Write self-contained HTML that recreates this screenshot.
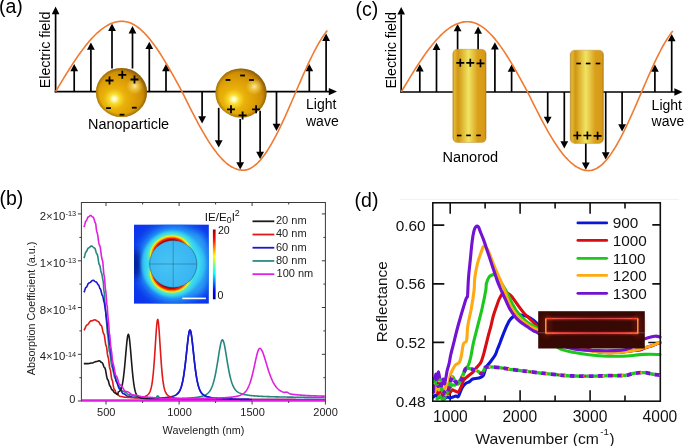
<!DOCTYPE html>
<html><head><meta charset="utf-8"><title>Plasmonic nanoparticles and nanorods</title>
<style>
html,body{margin:0;padding:0;background:#fff;overflow:hidden;}
svg{display:block;will-change:transform;filter:blur(0.3px);}
text{font-family:"Liberation Sans",sans-serif;}
</style></head><body>
<svg width="685" height="446" viewBox="0 0 685 446">
<defs>
<radialGradient id="sph" cx="0.36" cy="0.63" r="0.78" fx="0.36" fy="0.63">
  <stop offset="0" stop-color="#ffffff"/>
  <stop offset="0.045" stop-color="#fffcc0"/>
  <stop offset="0.13" stop-color="#f8dc30"/>
  <stop offset="0.27" stop-color="#eab20a"/>
  <stop offset="0.5" stop-color="#de9f06"/>
  <stop offset="0.7" stop-color="#ce8e04"/>
  <stop offset="0.86" stop-color="#a86e08"/>
  <stop offset="1" stop-color="#744c10"/>
</radialGradient>
<radialGradient id="sph2" cx="0.76" cy="0.37" r="0.17">
  <stop offset="0" stop-color="#fff0a0" stop-opacity="0.95"/>
  <stop offset="0.5" stop-color="#fbe070" stop-opacity="0.5"/>
  <stop offset="1" stop-color="#fbe070" stop-opacity="0"/>
</radialGradient>
<radialGradient id="sph3" cx="0.5" cy="0.5" r="0.5">
  <stop offset="0.86" stop-color="#6a4808" stop-opacity="0"/>
  <stop offset="1" stop-color="#6a4808" stop-opacity="0.45"/>
</radialGradient>
<linearGradient id="rod" x1="0" x2="1" y1="0" y2="0">
  <stop offset="0" stop-color="#b98a28"/>
  <stop offset="0.05" stop-color="#e2b832"/>
  <stop offset="0.16" stop-color="#d29612"/>
  <stop offset="0.47" stop-color="#f0e462"/>
  <stop offset="0.75" stop-color="#d9a01c"/>
  <stop offset="0.95" stop-color="#d99a16"/>
  <stop offset="1" stop-color="#a87a22"/>
</linearGradient>
</defs>
<rect width="685" height="446" fill="#fff"/>

<g id="wa"><g stroke="#000" stroke-width="1.7" fill="#000">
<line x1="55.6" y1="92.45" x2="55.6" y2="14"/>
<polygon points="55.6,6.6 59.4,14.2 51.8,14.2" stroke="none"/>
<line x1="54.75" y1="91.6" x2="329.5" y2="91.6"/>
<polygon points="337,91.6 328.8,87.9 328.8,95.3" stroke="none"/>
<line x1="74.2" y1="91.6" x2="74.2" y2="70.7"/><polygon stroke="none" points="74.2,63.9 78.1,71.2 70.3,71.2"/>
<line x1="90.9" y1="91.6" x2="90.9" y2="49.2"/><polygon stroke="none" points="90.9,42.4 94.8,49.7 87,49.7"/>
<line x1="112" y1="68.5" x2="112" y2="30.4"/><polygon stroke="none" points="112,23.6 115.9,30.9 108.1,30.9"/>
<line x1="132.5" y1="68.5" x2="132.5" y2="32.9"/><polygon stroke="none" points="132.5,26.1 136.4,33.4 128.6,33.4"/>
<line x1="149.3" y1="91.6" x2="149.3" y2="48.6"/><polygon stroke="none" points="149.3,41.8 153.2,49.1 145.4,49.1"/>
<line x1="166" y1="91.6" x2="166" y2="70.8"/><polygon stroke="none" points="166,64 169.9,71.3 162.1,71.3"/>
<line x1="309.3" y1="91.6" x2="309.3" y2="70.8"/><polygon stroke="none" points="309.3,64 313.2,71.3 305.4,71.3"/>
<line x1="326.1" y1="91.6" x2="326.1" y2="40.4"/><polygon stroke="none" points="326.1,33.6 330,40.9 322.2,40.9"/>
<line x1="202.1" y1="91.6" x2="202.1" y2="116.8"/><polygon stroke="none" points="202.1,123.6 206,116.3 198.2,116.3"/>
<line x1="276.5" y1="91.6" x2="276.5" y2="124.3"/><polygon stroke="none" points="276.5,131.1 280.4,123.8 272.6,123.8"/>
</g>
<path d="M55.6,91.6 C55.85,91.18 56.6,89.93 57.1,89.1 C57.6,88.27 58.1,87.44 58.6,86.61 C59.1,85.78 59.6,84.95 60.1,84.12 C60.6,83.29 61.1,82.46 61.6,81.64 C62.1,80.82 62.6,79.99 63.1,79.17 C63.6,78.35 64.1,77.54 64.6,76.72 C65.1,75.91 65.6,75.1 66.1,74.29 C66.6,73.48 67.1,72.68 67.6,71.88 C68.1,71.08 68.6,70.29 69.1,69.5 C69.6,68.71 70.1,67.92 70.6,67.14 C71.1,66.36 71.6,65.58 72.1,64.81 C72.6,64.04 73.1,63.28 73.6,62.52 C74.1,61.76 74.6,61.01 75.1,60.26 C75.6,59.52 76.1,58.78 76.6,58.05 C77.1,57.32 77.6,56.59 78.1,55.87 C78.6,55.16 79.1,54.45 79.6,53.75 C80.1,53.04 80.6,52.35 81.1,51.67 C81.6,50.98 82.1,50.3 82.6,49.63 C83.1,48.97 83.6,48.31 84.1,47.66 C84.6,47.01 85.1,46.37 85.6,45.74 C86.1,45.1 86.6,44.48 87.1,43.87 C87.6,43.26 88.1,42.66 88.6,42.07 C89.1,41.48 89.6,40.9 90.1,40.33 C90.6,39.76 91.1,39.2 91.6,38.65 C92.1,38.1 92.6,37.57 93.1,37.04 C93.6,36.52 94.1,36 94.6,35.5 C95.1,35 95.6,34.51 96.1,34.03 C96.6,33.55 97.1,33.09 97.6,32.63 C98.1,32.18 98.6,31.74 99.1,31.31 C99.6,30.88 100.1,30.47 100.6,30.06 C101.1,29.66 101.6,29.27 102.1,28.89 C102.6,28.52 103.1,28.15 103.6,27.8 C104.1,27.45 104.6,27.12 105.1,26.8 C105.6,26.47 106.1,26.16 106.6,25.87 C107.1,25.57 107.6,25.29 108.1,25.02 C108.6,24.76 109.1,24.5 109.6,24.26 C110.1,24.02 110.6,23.8 111.1,23.59 C111.6,23.38 112.1,23.18 112.6,23 C113.1,22.82 113.6,22.65 114.1,22.5 C114.6,22.34 115.1,22.21 115.6,22.08 C116.1,21.96 116.6,21.85 117.1,21.75 C117.6,21.66 118.1,21.58 118.6,21.51 C119.1,21.45 119.6,21.4 120.1,21.36 C120.6,21.33 121.1,21.31 121.6,21.3 C122.1,21.3 122.6,21.31 123.1,21.33 C123.6,21.36 124.1,21.41 124.6,21.47 C125.1,21.54 125.6,21.62 126.1,21.72 C126.6,21.82 127.1,21.94 127.6,22.08 C128.1,22.22 128.6,22.37 129.1,22.54 C129.6,22.71 130.1,22.9 130.6,23.11 C131.1,23.32 131.6,23.54 132.1,23.78 C132.6,24.03 133.1,24.28 133.6,24.56 C134.1,24.84 134.6,25.13 135.1,25.44 C135.6,25.75 136.1,26.08 136.6,26.43 C137.1,26.77 137.6,27.13 138.1,27.51 C138.6,27.89 139.1,28.28 139.6,28.69 C140.1,29.1 140.6,29.53 141.1,29.97 C141.6,30.41 142.1,30.87 142.6,31.34 C143.1,31.81 143.6,32.3 144.1,32.81 C144.6,33.31 145.1,33.83 145.6,34.36 C146.1,34.89 146.6,35.44 147.1,36 C147.6,36.57 148.1,37.14 148.6,37.73 C149.1,38.32 149.6,38.93 150.1,39.55 C150.6,40.16 151.1,40.79 151.6,41.44 C152.1,42.08 152.6,42.74 153.1,43.41 C153.6,44.08 154.1,44.76 154.6,45.45 C155.1,46.14 155.6,46.85 156.1,47.56 C156.6,48.28 157.1,49.01 157.6,49.75 C158.1,50.48 158.6,51.23 159.1,51.99 C159.6,52.75 160.1,53.52 160.6,54.3 C161.1,55.08 161.6,55.87 162.1,56.66 C162.6,57.46 163.1,58.27 163.6,59.08 C164.1,59.89 164.6,60.72 165.1,61.55 C165.6,62.38 166.1,63.22 166.6,64.06 C167.1,64.91 167.6,65.76 168.1,66.62 C168.6,67.48 169.1,68.34 169.6,69.21 C170.1,70.08 170.6,70.96 171.1,71.84 C171.6,72.72 172.1,73.61 172.6,74.5 C173.1,75.39 173.6,76.29 174.1,77.19 C174.6,78.09 175.1,78.99 175.6,79.9 C176.1,80.8 176.6,81.71 177.1,82.62 C177.6,83.53 178.1,84.45 178.6,85.36 C179.1,86.28 179.6,87.19 180.1,88.11 C180.6,89.03 181.1,89.91 181.6,90.87 C182.1,91.82 182.6,92.83 183.1,93.83 C183.6,94.83 184.1,95.85 184.6,96.86 C185.1,97.87 185.6,98.88 186.1,99.88 C186.6,100.89 187.1,101.89 187.6,102.9 C188.1,103.9 188.6,104.9 189.1,105.89 C189.6,106.89 190.1,107.88 190.6,108.86 C191.1,109.85 191.6,110.84 192.1,111.81 C192.6,112.79 193.1,113.76 193.6,114.73 C194.1,115.7 194.6,116.66 195.1,117.61 C195.6,118.57 196.1,119.52 196.6,120.46 C197.1,121.4 197.6,122.33 198.1,123.26 C198.6,124.19 199.1,125.11 199.6,126.02 C200.1,126.93 200.6,127.83 201.1,128.72 C201.6,129.61 202.1,130.49 202.6,131.37 C203.1,132.24 203.6,133.1 204.1,133.95 C204.6,134.81 205.1,135.65 205.6,136.48 C206.1,137.31 206.6,138.13 207.1,138.94 C207.6,139.75 208.1,140.54 208.6,141.33 C209.1,142.11 209.6,142.88 210.1,143.64 C210.6,144.4 211.1,145.14 211.6,145.88 C212.1,146.61 212.6,147.33 213.1,148.03 C213.6,148.73 214.1,149.43 214.6,150.1 C215.1,150.78 215.6,151.44 216.1,152.08 C216.6,152.73 217.1,153.36 217.6,153.98 C218.1,154.59 218.6,155.19 219.1,155.78 C219.6,156.36 220.1,156.93 220.6,157.48 C221.1,158.03 221.6,158.57 222.1,159.09 C222.6,159.61 223.1,160.11 223.6,160.59 C224.1,161.08 224.6,161.55 225.1,162 C225.6,162.45 226.1,162.88 226.6,163.29 C227.1,163.71 227.6,164.11 228.1,164.49 C228.6,164.86 229.1,165.22 229.6,165.57 C230.1,165.91 230.6,166.23 231.1,166.54 C231.6,166.84 232.1,167.13 232.6,167.4 C233.1,167.67 233.6,167.91 234.1,168.14 C234.6,168.37 235.1,168.59 235.6,168.78 C236.1,168.97 236.6,169.14 237.1,169.29 C237.6,169.45 238.1,169.58 238.6,169.7 C239.1,169.81 239.6,169.91 240.1,169.98 C240.6,170.06 241.1,170.11 241.6,170.15 C242.1,170.19 242.6,170.21 243.1,170.2 C243.6,170.19 244.1,170.17 244.6,170.11 C245.1,170.06 245.6,169.98 246.1,169.87 C246.6,169.76 247.1,169.63 247.6,169.47 C248.1,169.31 248.6,169.13 249.1,168.92 C249.6,168.71 250.1,168.47 250.6,168.21 C251.1,167.95 251.6,167.67 252.1,167.36 C252.6,167.05 253.1,166.71 253.6,166.35 C254.1,165.99 254.6,165.61 255.1,165.2 C255.6,164.79 256.1,164.36 256.6,163.9 C257.1,163.44 257.6,162.96 258.1,162.46 C258.6,161.96 259.1,161.43 259.6,160.88 C260.1,160.33 260.6,159.75 261.1,159.16 C261.6,158.56 262.1,157.95 262.6,157.31 C263.1,156.67 263.6,156.01 264.1,155.33 C264.6,154.64 265.1,153.94 265.6,153.22 C266.1,152.49 266.6,151.75 267.1,150.99 C267.6,150.23 268.1,149.44 268.6,148.64 C269.1,147.84 269.6,147.02 270.1,146.18 C270.6,145.34 271.1,144.49 271.6,143.61 C272.1,142.74 272.6,141.85 273.1,140.94 C273.6,140.04 274.1,139.11 274.6,138.18 C275.1,137.24 275.6,136.28 276.1,135.32 C276.6,134.35 277.1,133.37 277.6,132.37 C278.1,131.37 278.6,130.36 279.1,129.34 C279.6,128.32 280.1,127.29 280.6,126.24 C281.1,125.2 281.6,124.14 282.1,123.07 C282.6,122.01 283.1,120.93 283.6,119.84 C284.1,118.75 284.6,117.66 285.1,116.55 C285.6,115.45 286.1,114.33 286.6,113.22 C287.1,112.1 287.6,110.97 288.1,109.84 C288.6,108.7 289.1,107.56 289.6,106.42 C290.1,105.28 290.6,104.13 291.1,102.97 C291.6,101.82 292.1,100.67 292.6,99.51 C293.1,98.35 293.6,97.19 294.1,96.02 C294.6,94.86 295.1,93.7 295.6,92.53 C296.1,91.37 296.6,90.2 297.1,89.04 C297.6,87.87 298.1,86.71 298.6,85.54 C299.1,84.38 299.6,83.22 300.1,82.07 C300.6,80.91 301.1,79.76 301.6,78.61 C302.1,77.47 302.6,76.32 303.1,75.19 C303.6,74.05 304.1,72.92 304.6,71.8 C305.1,70.68 305.6,69.57 306.1,68.47 C306.6,67.36 307.1,66.27 307.6,65.18 C308.1,64.1 308.6,63.02 309.1,61.96 C309.6,60.9 310.1,59.85 310.6,58.81 C311.1,57.77 311.6,56.75 312.1,55.73 C312.6,54.72 313.1,53.73 313.6,52.75 C314.1,51.76 314.6,50.8 315.1,49.85 C315.6,48.9 316.1,47.96 316.6,47.05 C317.1,46.13 317.6,45.23 318.1,44.35 C318.6,43.47 319.1,42.61 319.6,41.77 C320.1,40.93 320.6,40.11 321.1,39.31 C321.6,38.51 322.1,37.72 322.6,36.96 C323.1,36.21 323.6,35.47 324.1,34.75 C324.6,34.04 325.1,33.34 325.6,32.67 C326.1,32 326.82,31.1 327.1,30.73 C327.38,30.37 327.27,30.53 327.3,30.49" fill="none" stroke="#f07a30" stroke-width="1.6"/></g>
<ellipse cx="121.5" cy="92.5" rx="25.6" ry="24.5" fill="url(#sph)"/>
<ellipse cx="121.5" cy="92.5" rx="25.6" ry="24.5" fill="url(#sph2)"/>
<ellipse cx="121.5" cy="92.5" rx="25.6" ry="24.5" fill="url(#sph3)"/>
<ellipse cx="241" cy="93" rx="25.6" ry="24.5" fill="url(#sph)"/>
<ellipse cx="241" cy="93" rx="25.6" ry="24.5" fill="url(#sph2)"/>
<ellipse cx="241" cy="93" rx="25.6" ry="24.5" fill="url(#sph3)"/>
<g stroke="#000" stroke-width="1.7" fill="#000"><line x1="218.7" y1="107.8" x2="218.7" y2="140.8"/><polygon stroke="none" points="218.7,147.6 222.6,140.3 214.8,140.3"/><line x1="240.2" y1="119" x2="240.2" y2="162.7"/><polygon stroke="none" points="240.2,169.5 244.1,162.2 236.3,162.2"/><line x1="260.1" y1="110.8" x2="260.1" y2="152.2"/><polygon stroke="none" points="260.1,159 264,151.7 256.2,151.7"/></g>
<g stroke="#000" stroke-width="1.7" fill="#000"><line x1="564.3" y1="92" x2="564.3" y2="141.8"/><polygon stroke="none" points="564.3,148.6 568.2,141.3 560.4,141.3"/><line x1="585.8" y1="92" x2="585.8" y2="163"/><polygon stroke="none" points="585.8,169.8 589.7,162.5 581.9,162.5"/><line x1="605.7" y1="92" x2="605.7" y2="152.8"/><polygon stroke="none" points="605.7,159.6 609.6,152.3 601.8,152.3"/></g>
<g stroke="#000" stroke-width="1.8" fill="none">
<path d="M105.5,80.5H113.5M109.5,76.5V84.5"/>
<path d="M118.3,74.8H126.3M122.3,70.8V78.8"/>
<path d="M130.5,79.5H138.5M134.5,75.5V83.5"/>
<path d="M227,109.3H235M231,105.3V113.3"/>
<path d="M238.6,115.4H246.6M242.6,111.4V119.4"/>
<path d="M252.1,109.3H260.1M256.1,105.3V113.3"/>
<path d="M106.1,108.1H110.9"/>
<path d="M119.6,114.7H124.4"/>
<path d="M131.9,107.7H136.7"/>
<path d="M225.6,80H230.4"/>
<path d="M240.2,75.5H245"/>
<path d="M249.1,80H253.9"/>
</g>
<text x="-1" y="13.4" font-size="19.5">(a)</text>
<text transform="translate(50.3,88.2) rotate(-90)" font-size="14.2">Electric field</text>
<text x="88.1" y="128.5" font-size="14.45">Nanoparticle</text>
<text x="306" y="109.3" font-size="14">Light</text>
<text x="306" y="125.7" font-size="14">wave</text>
<use href="#wa" transform="translate(345.6,0.4)"/>
<rect x="452.8" y="49.3" width="33.3" height="93.2" rx="4.5" fill="url(#rod)" stroke="#b88a3a" stroke-width="0.6" stroke-opacity="0.7"/>
<rect x="570.2" y="50.2" width="33.3" height="93.2" rx="4.5" fill="url(#rod)" stroke="#b88a3a" stroke-width="0.6" stroke-opacity="0.7"/>
<g stroke="#000" stroke-width="1.65" fill="none">
<path d="M456.3,62.8H464.3M460.3,58.8V66.8"/>
<path d="M466.3,62.8H474.3M470.3,58.8V66.8"/>
<path d="M476.5,63.3H484.5M480.5,59.3V67.3"/>
<path d="M573.3,135.5H581.3M577.3,131.5V139.5"/>
<path d="M583.4,135.5H591.4M587.4,131.5V139.5"/>
<path d="M593.6,135.8H601.6M597.6,131.8V139.8"/>
<path d="M456.9,135.5H461.5"/>
<path d="M466.2,135.4H470.8"/>
<path d="M476.2,135.4H480.8"/>
<path d="M576.3,63.5H580.9"/>
<path d="M585.9,63.5H590.5"/>
<path d="M595.7,63.5H600.3"/>
</g>
<text x="355.4" y="16" font-size="19.5">(c)</text>
<text transform="translate(396.4,88.6) rotate(-90)" font-size="14.2">Electric field</text>
<text x="442.4" y="161.8" font-size="14.55">Nanorod</text>
<text x="651.6" y="109.7" font-size="14">Light</text>
<text x="651.6" y="126.1" font-size="14">wave</text>
<rect x="81.4" y="202.5" width="244" height="198.5" fill="none" stroke="#3a3a3a" stroke-width="1"/>
<path d="M77.9,213.9H81.4M77.9,260.8H81.4M77.9,307.5H81.4M77.9,354.3H81.4M77.9,401H81.4M79.4,237.4H81.4M79.4,284.1H81.4M79.4,330.9H81.4M79.4,377.7H81.4M321.9,213.9H325.4M321.9,260.8H325.4M321.9,307.5H325.4M321.9,354.3H325.4M323.4,237.4H325.4M323.4,284.1H325.4M323.4,330.9H325.4M323.4,377.7H325.4M106,401V404.5M179.1,401V404.5M252.1,401V404.5M325.4,401V404.5M142.6,401V403M215.6,401V403M288.7,401V403M106,202.5V206M179.1,202.5V206M252.1,202.5V206M142.6,202.5V204.5M215.6,202.5V204.5M288.7,202.5V204.5" stroke="#3a3a3a" stroke-width="1" fill="none"/>
<g fill="none" stroke-width="1.6" stroke-linejoin="round">
<path d="M83.8,258.03 L84.3,257.29 L84.8,255.42 L85.3,253.33 L85.8,252.06 L86.3,251.79 L86.8,251 L87.3,249.8 L87.8,248.65 L88.3,247.99 L88.8,247.88 L89.3,247.6 L89.8,247.14 L90.3,246.62 L90.8,246.18 L91.3,245.95 L91.8,245.97 L92.3,246.26 L92.8,246.72 L93.3,247.23 L93.8,247.67 L94.3,247.9 L94.8,248.13 L95.3,249.31 L95.8,251.11 L96.3,252.83 L96.8,253.83 L97.3,254.3 L97.8,256.47 L98.3,259.76 L98.8,262.92 L99.3,264.74 L99.8,265.35 L100.3,267.68 L100.8,270.73 L101.3,272.72 L101.8,273.58 L102.3,276.78 L102.8,279.61 L103.3,281.81 L103.8,289.66 L104.3,293.23 L104.8,301.42 L105.3,306.19 L105.8,313.9 L106.3,319.91 L106.8,324.75 L107.3,333.02 L107.8,335.36 L108.3,339.99 L108.8,346.82 L109.3,351.44 L109.8,352.43 L110.3,355.38 L110.8,359.87 L111.3,364.18 L111.8,366.66 L112.3,367.16 L112.8,368.71 L113.3,371.25 L113.8,374.09 L114.3,376.48 L114.8,377.77 L115.3,378.03 L115.8,378.88 L116.3,380.32 L116.8,382.07 L117.3,383.78 L117.8,385.12 L118.3,385.82 L118.8,385.94 L119.3,386.3 L119.8,386.94 L120.3,387.78 L120.8,388.72 L121.3,389.66 L121.8,390.46 L122.3,391.05 L122.8,391.35 L123.3,391.39 L123.8,391.48 L124.3,391.66 L124.8,391.91 L125.3,392.22 L125.8,392.57 L126.3,392.96 L126.8,393.35 L127.3,393.72 L127.8,394.07 L128.3,394.37 L128.8,394.61 L129.3,394.77 L129.8,394.84 L130.3,394.86 L130.8,394.88 L131.3,394.94 L131.8,395.02 L132.3,395.12 L132.8,395.24 L133.3,395.38 L133.8,395.53 L134.3,395.7 L134.8,395.87 L135.3,396.04 L135.8,396.2 L136.3,396.37 L136.8,396.52 L137.3,396.65 L137.8,396.77 L138.3,396.87 L138.8,396.94 L139.3,396.99 L139.8,397.01 L140.3,397.01 L140.8,397.03 L141.3,397.05 L141.8,397.09 L142.3,397.14 L142.8,397.2 L143.3,397.27 L143.8,397.34 L144.3,397.42 L144.8,397.51 L145.3,397.59 L145.8,397.67 L146.3,397.75 L146.8,397.82 L147.3,397.89 L147.8,397.95 L148.3,397.99 L148.8,398.03 L149.3,398.05 L149.8,398.06 L150.3,398.96 L150.8,398.95 L151.3,398.95 L151.8,398.95 L152.3,398.94 L152.8,398.94 L153.3,398.93 L153.8,398.92 L154.3,398.89 L154.8,398.81 L155.3,398.6 L155.8,398.18 L156.3,397.52 L156.8,396.72 L157.3,396.08 L157.8,395.91 L158.3,396.29 L158.8,397.02 L159.3,397.78 L159.8,398.34 L160.3,398.66 L160.8,398.8 L161.3,398.84 L161.8,398.85 L162.3,398.85 L162.8,398.84 L163.3,398.84 L163.8,398.83 L164.3,398.83 L164.8,398.82 L165.3,398.81 L165.8,398.81 L166.3,398.8 L166.8,398.79 L167.3,398.79 L167.8,398.78 L168.3,398.77 L168.8,398.76 L169.3,398.75 L169.8,398.75 L170.3,398.74 L170.8,398.73 L171.3,398.72 L171.8,398.71 L172.3,398.7 L172.8,398.69 L173.3,398.68 L173.8,398.67 L174.3,398.66 L174.8,398.65 L175.3,398.63 L175.8,398.62 L176.3,398.61 L176.8,398.6 L177.3,398.58 L177.8,398.57 L178.3,398.56 L178.8,398.54 L179.3,398.53 L179.8,398.51 L180.3,398.5 L180.8,398.48 L181.3,398.46 L181.8,398.44 L182.3,398.42 L182.8,398.41 L183.3,398.39 L183.8,398.36 L184.3,398.34 L184.8,398.32 L185.3,398.3 L185.8,398.27 L186.3,398.25 L186.8,398.22 L187.3,398.19 L187.8,398.17 L188.3,398.14 L188.8,398.1 L189.3,398.07 L189.8,398.04 L190.3,398 L190.8,397.96 L191.3,397.92 L191.8,397.88 L192.3,397.84 L192.8,397.79 L193.3,397.75 L193.8,397.7 L194.3,397.64 L194.8,397.59 L195.3,397.53 L195.8,397.46 L196.3,397.4 L196.8,397.33 L197.3,397.25 L197.8,397.17 L198.3,397.09 L198.8,397 L199.3,396.9 L199.8,396.8 L200.3,396.69 L200.8,396.57 L201.3,396.44 L201.8,396.3 L202.3,396.16 L202.8,396 L203.3,395.83 L203.8,395.64 L204.3,395.44 L204.8,395.22 L205.3,394.97 L205.8,394.7 L206.3,394.4 L206.8,394.07 L207.3,393.7 L207.8,393.28 L208.3,392.81 L208.8,392.29 L209.3,391.69 L209.8,391.01 L210.3,390.24 L210.8,389.36 L211.3,388.37 L211.8,387.26 L212.3,386 L212.8,384.59 L213.3,383.01 L213.8,381.26 L214.3,379.33 L214.8,377.21 L215.3,374.89 L215.8,372.39 L216.3,369.71 L216.8,366.86 L217.3,363.87 L217.8,360.76 L218.3,357.59 L218.8,354.42 L219.3,351.32 L219.8,348.37 L220.3,345.7 L220.8,343.4 L221.3,341.61 L221.8,340.41 L222.3,339.88 L222.8,340.05 L223.3,340.9 L223.8,342.39 L224.3,344.42 L224.8,346.88 L225.3,349.65 L225.8,352.64 L226.3,355.73 L226.8,358.84 L227.3,361.91 L227.8,364.88 L228.3,367.73 L228.8,370.41 L229.3,372.92 L229.8,375.24 L230.3,377.37 L230.8,379.31 L231.3,381.07 L231.8,382.66 L232.3,384.07 L232.8,385.33 L233.3,386.44 L233.8,387.43 L234.3,388.29 L234.8,389.05 L235.3,389.72 L235.8,390.31 L236.3,390.82 L236.8,391.28 L237.3,391.68 L237.8,392.03 L238.3,392.35 L238.8,392.63 L239.3,392.89 L239.8,393.12 L240.3,393.33 L240.8,393.52 L241.3,393.7 L241.8,393.86 L242.3,394.01 L242.8,394.15 L243.3,394.28 L243.8,394.4 L244.3,394.52 L244.8,394.63 L245.3,394.73 L245.8,394.82 L246.3,394.91 L246.8,395 L247.3,395.08 L247.8,395.16 L248.3,395.23 L248.8,395.3 L249.3,395.36 L249.8,395.43 L250.3,395.49 L250.8,395.54 L251.3,395.6 L251.8,395.65 L252.3,395.7 L252.8,395.75 L253.3,395.79 L253.8,395.84 L254.3,395.88 L254.8,395.92 L255.3,395.96 L255.8,396 L256.3,396.03 L256.8,396.07 L257.3,396.1 L257.8,396.13 L258.3,396.17 L258.8,396.2 L259.3,396.23 L259.8,396.25 L260.3,396.28 L260.8,396.31 L261.3,396.33 L261.8,396.36 L262.3,396.38 L262.8,396.41 L263.3,396.43 L263.8,396.45 L264.3,396.47 L264.8,396.49 L265.3,396.51 L265.8,396.53 L266.3,396.55 L266.8,396.57 L267.3,396.59 L267.8,396.61 L268.3,396.63 L268.8,396.64 L269.3,396.66 L269.8,396.67 L270.3,396.69 L270.8,396.71 L271.3,396.72 L271.8,396.74 L272.3,396.75 L272.8,396.77 L273.3,396.78 L273.8,396.79 L274.3,396.81 L274.8,396.82 L275.3,396.83 L275.8,396.84 L276.3,396.86 L276.8,396.87 L277.3,396.88 L277.8,396.89 L278.3,396.9 L278.8,396.92 L279.3,396.93 L279.8,396.94 L280.3,396.95 L280.8,396.96 L281.3,396.97 L281.8,396.98 L282.3,396.99 L282.8,397 L283.3,397.01 L283.8,397.02 L284.3,397.03 L284.8,397.04 L285.3,397.05 L285.8,397.06 L286.3,397.07 L286.8,397.07 L287.3,397.08 L287.8,397.09 L288.3,397.1 L288.8,397.11 L289.3,397.12 L289.8,397.13 L290.3,397.13 L290.8,397.14 L291.3,397.15 L291.8,397.16 L292.3,397.17 L292.8,397.17 L293.3,397.18 L293.8,397.19 L294.3,397.2 L294.8,397.2 L295.3,397.21 L295.8,397.22 L296.3,397.22 L296.8,397.23 L297.3,397.24 L297.8,397.25 L298.3,397.25 L298.8,397.26 L299.3,397.27 L299.8,397.27 L300.3,397.28 L300.8,397.29 L301.3,397.29 L301.8,397.3 L302.3,397.3 L302.8,397.31 L303.3,397.32 L303.8,397.32 L304.3,397.33 L304.8,397.34 L305.3,397.34 L305.8,397.35 L306.3,397.35 L306.8,397.36 L307.3,397.37 L307.8,397.37 L308.3,397.38 L308.8,397.38 L309.3,397.39 L309.8,397.39 L310.3,397.4 L310.8,397.41 L311.3,397.41 L311.8,397.42 L312.3,397.42 L312.8,397.43 L313.3,397.43 L313.8,397.44 L314.3,397.44 L314.8,397.45 L315.3,397.45 L315.8,397.46 L316.3,397.46 L316.8,397.47 L317.3,397.47 L317.8,397.48 L318.3,397.48 L318.8,397.49 L319.3,397.49 L319.8,397.5 L320.3,397.5 L320.8,397.51 L321.3,397.51 L321.8,397.52 L322.3,397.52 L322.8,397.53 L323.3,397.53 L323.8,397.54 L324.3,397.54 L324.8,397.55" stroke="#23877f"/>
<path d="M83.8,292.21 L84.3,291.63 L84.8,290.15 L85.3,288.52 L85.8,287.51 L86.3,287.3 L86.8,286.67 L87.3,285.63 L87.8,284.46 L88.3,283.49 L88.8,282.96 L89.3,282.87 L89.8,282.68 L90.3,282.34 L90.8,281.89 L91.3,281.41 L91.8,280.95 L92.3,280.58 L92.8,280.36 L93.3,280.3 L93.8,280.47 L94.3,280.83 L94.8,281.27 L95.3,281.66 L95.8,281.87 L96.3,282 L96.8,282.59 L97.3,283.48 L97.8,284.34 L98.3,284.84 L98.8,285.18 L99.3,286.7 L99.8,288.36 L100.3,288.91 L100.8,289.94 L101.3,292 L101.8,294.16 L102.3,295.45 L102.8,296.08 L103.3,298.61 L103.8,301.4 L104.3,302.41 L104.8,306.15 L105.3,309.07 L105.8,312.41 L106.3,316.71 L106.8,320.17 L107.3,324.86 L107.8,329.7 L108.3,332.3 L108.8,336.58 L109.3,342.27 L109.8,344.85 L110.3,346.85 L110.8,351.79 L111.3,357.02 L111.8,359.76 L112.3,360.88 L112.8,364.5 L113.3,368.84 L113.8,371.57 L114.3,372.18 L114.8,374.15 L115.3,377.14 L115.8,380.01 L116.3,381.67 L116.8,381.99 L117.3,382.98 L117.8,384.59 L118.3,386.4 L118.8,387.91 L119.3,388.73 L119.8,388.88 L120.3,389.28 L120.8,389.99 L121.3,390.91 L121.8,391.88 L122.3,392.76 L122.8,393.42 L123.3,393.75 L123.8,393.81 L124.3,393.97 L124.8,394.26 L125.3,394.64 L125.8,395.06 L126.3,395.48 L126.8,395.85 L127.3,396.11 L127.8,396.24 L128.3,396.26 L128.8,396.29 L129.3,396.35 L129.8,396.44 L130.3,396.55 L130.8,396.68 L131.3,396.81 L131.8,396.96 L132.3,397.09 L132.8,397.22 L133.3,397.32 L133.8,397.41 L134.3,397.46 L134.8,397.48 L135.3,397.48 L135.8,397.49 L136.3,397.5 L136.8,397.53 L137.3,397.56 L137.8,397.6 L138.3,397.64 L138.8,397.69 L139.3,397.74 L139.8,397.8 L140.3,397.85 L140.8,397.91 L141.3,397.96 L141.8,398 L142.3,398.05 L142.8,398.08 L143.3,398.11 L143.8,398.13 L144.3,398.14 L144.8,398.13 L145.3,398.43 L145.8,398.42 L146.3,398.42 L146.8,398.42 L147.3,398.41 L147.8,398.4 L148.3,398.4 L148.8,398.39 L149.3,398.39 L149.8,398.38 L150.3,398.37 L150.8,398.36 L151.3,398.35 L151.8,398.34 L152.3,398.33 L152.8,398.32 L153.3,398.31 L153.8,398.3 L154.3,398.28 L154.8,398.27 L155.3,398.25 L155.8,398.24 L156.3,398.22 L156.8,398.2 L157.3,398.18 L157.8,398.16 L158.3,398.14 L158.8,398.12 L159.3,398.1 L159.8,398.07 L160.3,398.04 L160.8,398.01 L161.3,397.98 L161.8,397.95 L162.3,397.92 L162.8,397.88 L163.3,397.84 L163.8,397.8 L164.3,397.75 L164.8,397.7 L165.3,397.65 L165.8,397.6 L166.3,397.54 L166.8,397.48 L167.3,397.41 L167.8,397.34 L168.3,397.27 L168.8,397.18 L169.3,397.1 L169.8,397 L170.3,396.9 L170.8,396.79 L171.3,396.67 L171.8,396.54 L172.3,396.41 L172.8,396.25 L173.3,396.09 L173.8,395.91 L174.3,395.71 L174.8,395.49 L175.3,395.24 L175.8,394.97 L176.3,394.66 L176.8,394.31 L177.3,393.9 L177.8,393.43 L178.3,392.88 L178.8,392.24 L179.3,391.48 L179.8,390.59 L180.3,389.53 L180.8,388.28 L181.3,386.8 L181.8,385.07 L182.3,383.06 L182.8,380.73 L183.3,378.06 L183.8,375.04 L184.3,371.66 L184.8,367.92 L185.3,363.85 L185.8,359.47 L186.3,354.88 L186.8,350.16 L187.3,345.46 L187.8,340.98 L188.3,336.94 L188.8,333.62 L189.3,331.27 L189.8,330.1 L190.3,330.24 L190.8,331.67 L191.3,334.25 L191.8,337.75 L192.3,341.91 L192.8,346.47 L193.3,351.19 L193.8,355.91 L194.3,360.48 L194.8,364.81 L195.3,368.84 L195.8,372.52 L196.3,375.84 L196.8,378.81 L197.3,381.42 L197.8,383.69 L198.3,385.66 L198.8,387.35 L199.3,388.79 L199.8,390.02 L200.3,391.05 L200.8,391.93 L201.3,392.68 L201.8,393.32 L202.3,393.86 L202.8,394.33 L203.3,394.74 L203.8,395.09 L204.3,395.41 L204.8,395.69 L205.3,395.94 L205.8,396.16 L206.3,396.36 L206.8,396.55 L207.3,396.72 L207.8,396.87 L208.3,397.01 L208.8,397.15 L209.3,397.27 L209.8,397.39 L210.3,397.49 L210.8,397.59 L211.3,397.68 L211.8,397.77 L212.3,397.85 L212.8,397.93 L213.3,398 L213.8,398.07 L214.3,398.13 L214.8,398.19 L215.3,398.25 L215.8,398.3 L216.3,398.36 L216.8,398.4 L217.3,398.45 L217.8,398.49 L218.3,398.53 L218.8,398.57 L219.3,398.61 L219.8,398.65 L220.3,398.68 L220.8,398.71 L221.3,398.74 L221.8,398.77 L222.3,398.8 L222.8,398.83 L223.3,398.85 L223.8,398.88 L224.3,398.9 L224.8,398.92 L225.3,398.94 L225.8,398.96 L226.3,398.98 L226.8,399 L227.3,399.02 L227.8,399.04 L228.3,399.06 L228.8,399.07 L229.3,399.09 L229.8,399.1 L230.3,399.12 L230.8,399.13 L231.3,399.14 L231.8,399.16 L232.3,399.17 L232.8,399.18 L233.3,399.19 L233.8,399.21 L234.3,399.22 L234.8,399.23 L235.3,399.24 L235.8,399.25 L236.3,399.26 L236.8,399.27 L237.3,399.27 L237.8,399.28 L238.3,399.29 L238.8,399.3 L239.3,399.31 L239.8,399.32 L240.3,399.32 L240.8,399.33 L241.3,399.34 L241.8,399.34 L242.3,399.35 L242.8,399.36 L243.3,399.36 L243.8,399.37 L244.3,399.38 L244.8,399.38 L245.3,399.39 L245.8,399.39 L246.3,399.4 L246.8,399.4 L247.3,399.41 L247.8,399.41 L248.3,399.42 L248.8,399.42 L249.3,399.43 L249.8,399.43 L250.3,399.44 L250.8,399.44 L251.3,399.45 L251.8,399.45 L252.3,399.45 L252.8,399.46 L253.3,399.46 L253.8,399.47 L254.3,399.47 L254.8,399.47 L255.3,399.48 L255.8,399.48 L256.3,399.48 L256.8,399.49 L257.3,399.49 L257.8,399.49 L258.3,399.5 L258.8,399.5 L259.3,399.5 L259.8,399.5 L260.3,399.51 L260.8,399.51 L261.3,399.51 L261.8,399.51 L262.3,399.52 L262.8,399.52 L263.3,399.52 L263.8,399.52 L264.3,399.53 L264.8,399.53 L265.3,399.53 L265.8,399.53 L266.3,399.54 L266.8,399.54 L267.3,399.54 L267.8,399.54 L268.3,399.54 L268.8,399.55 L269.3,399.55 L269.8,399.55 L270.3,399.55 L270.8,399.55 L271.3,399.56 L271.8,399.56 L272.3,399.56 L272.8,399.56 L273.3,399.56 L273.8,399.56 L274.3,399.57 L274.8,399.57 L275.3,399.57 L275.8,399.57 L276.3,399.57 L276.8,399.57 L277.3,399.57 L277.8,399.58 L278.3,399.58 L278.8,399.58 L279.3,399.58 L279.8,399.58 L280.3,399.58 L280.8,399.58 L281.3,399.59 L281.8,399.59 L282.3,399.59 L282.8,399.59 L283.3,399.59 L283.8,399.59 L284.3,399.59 L284.8,399.59 L285.3,399.59 L285.8,399.6 L286.3,399.6 L286.8,399.6 L287.3,399.6 L287.8,399.6 L288.3,399.6 L288.8,399.6 L289.3,399.6 L289.8,399.6 L290.3,399.6 L290.8,399.61 L291.3,399.61 L291.8,399.61 L292.3,399.61 L292.8,399.61 L293.3,399.61 L293.8,399.61 L294.3,399.61 L294.8,399.61 L295.3,399.61 L295.8,399.61 L296.3,399.62 L296.8,399.62 L297.3,399.62 L297.8,399.62 L298.3,399.62 L298.8,399.62 L299.3,399.62 L299.8,399.62 L300.3,399.62 L300.8,399.62 L301.3,399.62 L301.8,399.62 L302.3,399.62 L302.8,399.62 L303.3,399.63 L303.8,399.63 L304.3,399.63 L304.8,399.63 L305.3,399.63 L305.8,399.63 L306.3,399.63 L306.8,399.63 L307.3,399.63 L307.8,399.63 L308.3,399.63 L308.8,399.63 L309.3,399.63 L309.8,399.63 L310.3,399.63 L310.8,399.63 L311.3,399.63 L311.8,399.64 L312.3,399.64 L312.8,399.64 L313.3,399.64 L313.8,399.64 L314.3,399.64 L314.8,399.64 L315.3,399.64 L315.8,399.64 L316.3,399.64 L316.8,399.64 L317.3,399.64 L317.8,399.64 L318.3,399.64 L318.8,399.64 L319.3,399.64 L319.8,399.64 L320.3,399.64 L320.8,399.64 L321.3,399.64 L321.8,399.64 L322.3,399.65 L322.8,399.65 L323.3,399.65 L323.8,399.65 L324.3,399.65 L324.8,399.65" stroke="#1818d0"/>
<path d="M83.8,330.11 L84.3,329.8 L84.8,328.95 L85.3,327.76 L85.8,326.51 L86.3,325.5 L86.8,324.95 L87.3,324.85 L87.8,324.52 L88.3,323.95 L88.8,323.21 L89.3,322.43 L89.8,321.72 L90.3,321.19 L90.8,320.92 L91.3,320.88 L91.8,320.79 L92.3,320.65 L92.8,320.46 L93.3,320.27 L93.8,320.09 L94.3,319.95 L94.8,319.89 L95.3,319.91 L95.8,320.12 L96.3,320.47 L96.8,320.85 L97.3,321.18 L97.8,321.35 L98.3,321.45 L98.8,321.95 L99.3,322.78 L99.8,323.75 L100.3,324.62 L100.8,325.2 L101.3,325.38 L101.8,326.42 L102.3,328.58 L102.8,331.1 L103.3,333.09 L103.8,333.84 L104.3,335.07 L104.8,338.28 L105.3,342.12 L105.8,345.02 L106.3,345.9 L106.8,348.57 L107.3,353.19 L107.8,356.48 L108.3,357.46 L108.8,360.95 L109.3,365.52 L109.8,368.5 L110.3,369.39 L110.8,372.58 L111.3,376.78 L111.8,379.5 L112.3,380.2 L112.8,382.54 L113.3,385.85 L113.8,388.5 L114.3,389.27 L114.8,389.87 L115.3,391.14 L115.8,392.62 L116.3,393.78 L116.8,394.22 L117.3,394.31 L117.8,394.59 L118.3,395.01 L118.8,395.48 L119.3,395.93 L119.8,396.27 L120.3,396.44 L120.8,396.46 L121.3,396.49 L121.8,396.56 L122.3,396.66 L122.8,396.78 L123.3,396.91 L123.8,397.04 L124.3,397.16 L124.8,397.25 L125.3,397.31 L125.8,397.33 L126.3,397.32 L126.8,397.32 L127.3,397.33 L127.8,397.35 L128.3,397.37 L128.8,397.41 L129.3,397.45 L129.8,397.5 L130.3,397.54 L130.8,397.59 L131.3,397.63 L131.8,397.67 L132.3,397.7 L132.8,397.73 L133.3,397.74 L133.8,397.74 L134.3,397.73 L134.8,397.7 L135.3,398.07 L135.8,398.04 L136.3,398 L136.8,397.96 L137.3,397.92 L137.8,397.87 L138.3,397.82 L138.8,397.76 L139.3,397.7 L139.8,397.64 L140.3,397.57 L140.8,397.49 L141.3,397.4 L141.8,397.3 L142.3,397.2 L142.8,397.08 L143.3,396.95 L143.8,396.81 L144.3,396.65 L144.8,396.47 L145.3,396.27 L145.8,396.04 L146.3,395.79 L146.8,395.49 L147.3,395.15 L147.8,394.75 L148.3,394.27 L148.8,393.69 L149.3,392.96 L149.8,392.04 L150.3,390.87 L150.8,389.35 L151.3,387.39 L151.8,384.88 L152.3,381.71 L152.8,377.77 L153.3,372.98 L153.8,367.3 L154.3,360.75 L154.8,353.44 L155.3,345.63 L155.8,337.71 L156.3,330.31 L156.8,324.24 L157.3,320.39 L157.8,319.46 L158.3,321.63 L158.8,326.49 L159.3,333.21 L159.8,340.93 L160.3,348.88 L160.8,356.55 L161.3,363.59 L161.8,369.82 L162.3,375.17 L162.8,379.63 L163.3,383.26 L163.8,386.17 L164.3,388.46 L164.8,390.25 L165.3,391.64 L165.8,392.72 L166.3,393.58 L166.8,394.26 L167.3,394.81 L167.8,395.28 L168.3,395.67 L168.8,396 L169.3,396.3 L169.8,396.56 L170.3,396.79 L170.8,397 L171.3,397.19 L171.8,397.36 L172.3,397.51 L172.8,397.66 L173.3,397.79 L173.8,397.9 L174.3,398.01 L174.8,398.12 L175.3,398.21 L175.8,398.28 L176.3,398.36 L176.8,398.42 L177.3,398.49 L177.8,398.55 L178.3,398.6 L178.8,398.65 L179.3,398.7 L179.8,398.74 L180.3,398.78 L180.8,398.82 L181.3,398.86 L181.8,398.89 L182.3,398.92 L182.8,398.95 L183.3,398.98 L183.8,399.01 L184.3,399.03 L184.8,399.06 L185.3,399.08 L185.8,399.1 L186.3,399.12 L186.8,399.14 L187.3,399.16 L187.8,399.18 L188.3,399.19 L188.8,399.21 L189.3,399.23 L189.8,399.24 L190.3,399.25 L190.8,399.27 L191.3,399.28 L191.8,399.29 L192.3,399.3 L192.8,399.31 L193.3,399.33 L193.8,399.34 L194.3,399.35 L194.8,399.35 L195.3,399.36 L195.8,399.37 L196.3,399.38 L196.8,399.39 L197.3,399.4 L197.8,399.4 L198.3,399.41 L198.8,399.42 L199.3,399.42 L199.8,399.43 L200.3,399.44 L200.8,399.44 L201.3,399.45 L201.8,399.45 L202.3,399.46 L202.8,399.47 L203.3,399.47 L203.8,399.48 L204.3,399.48 L204.8,399.49 L205.3,399.49 L205.8,399.49 L206.3,399.5 L206.8,399.5 L207.3,399.51 L207.8,399.51 L208.3,399.51 L208.8,399.52 L209.3,399.52 L209.8,399.52 L210.3,399.53 L210.8,399.53 L211.3,399.53 L211.8,399.54 L212.3,399.54 L212.8,399.54 L213.3,399.55 L213.8,399.55 L214.3,399.55 L214.8,399.55 L215.3,399.56 L215.8,399.56 L216.3,399.56 L216.8,399.56 L217.3,399.57 L217.8,399.57 L218.3,399.57 L218.8,399.57 L219.3,399.57 L219.8,399.58 L220.3,399.58 L220.8,399.58 L221.3,399.58 L221.8,399.58 L222.3,399.59 L222.8,399.59 L223.3,399.59 L223.8,399.59 L224.3,399.59 L224.8,399.59 L225.3,399.6 L225.8,399.6 L226.3,399.6 L226.8,399.6 L227.3,399.6 L227.8,399.6 L228.3,399.6 L228.8,399.61 L229.3,399.61 L229.8,399.61 L230.3,399.61 L230.8,399.61 L231.3,399.61 L231.8,399.61 L232.3,399.61 L232.8,399.62 L233.3,399.62 L233.8,399.62 L234.3,399.62 L234.8,399.62 L235.3,399.62 L235.8,399.62 L236.3,399.62 L236.8,399.62 L237.3,399.62 L237.8,399.63 L238.3,399.63 L238.8,399.63 L239.3,399.63 L239.8,399.63 L240.3,399.63 L240.8,399.63 L241.3,399.63 L241.8,399.63 L242.3,399.63 L242.8,399.63 L243.3,399.63 L243.8,399.64 L244.3,399.64 L244.8,399.64 L245.3,399.64 L245.8,399.64 L246.3,399.64 L246.8,399.64 L247.3,399.64 L247.8,399.64 L248.3,399.64 L248.8,399.64 L249.3,399.64 L249.8,399.64 L250.3,399.64 L250.8,399.64 L251.3,399.65 L251.8,399.65 L252.3,399.65 L252.8,399.65 L253.3,399.65 L253.8,399.65 L254.3,399.65 L254.8,399.65 L255.3,399.65 L255.8,399.65 L256.3,399.65 L256.8,399.65 L257.3,399.65 L257.8,399.65 L258.3,399.65 L258.8,399.65 L259.3,399.65 L259.8,399.65 L260.3,399.65 L260.8,399.65 L261.3,399.66 L261.8,399.66 L262.3,399.66 L262.8,399.66 L263.3,399.66 L263.8,399.66 L264.3,399.66 L264.8,399.66 L265.3,399.66 L265.8,399.66 L266.3,399.66 L266.8,399.66 L267.3,399.66 L267.8,399.66 L268.3,399.66 L268.8,399.66 L269.3,399.66 L269.8,399.66 L270.3,399.66 L270.8,399.66 L271.3,399.66 L271.8,399.66 L272.3,399.66 L272.8,399.66 L273.3,399.66 L273.8,399.66 L274.3,399.66 L274.8,399.67 L275.3,399.67 L275.8,399.67 L276.3,399.67 L276.8,399.67 L277.3,399.67 L277.8,399.67 L278.3,399.67 L278.8,399.67 L279.3,399.67 L279.8,399.67 L280.3,399.67 L280.8,399.67 L281.3,399.67 L281.8,399.67 L282.3,399.67 L282.8,399.67 L283.3,399.67 L283.8,399.67 L284.3,399.67 L284.8,399.67 L285.3,399.67 L285.8,399.67 L286.3,399.67 L286.8,399.67 L287.3,399.67 L287.8,399.67 L288.3,399.67 L288.8,399.67 L289.3,399.67 L289.8,399.67 L290.3,399.67 L290.8,399.67 L291.3,399.67 L291.8,399.67 L292.3,399.67 L292.8,399.67 L293.3,399.67 L293.8,399.67 L294.3,399.67 L294.8,399.67 L295.3,399.67 L295.8,399.67 L296.3,399.68 L296.8,399.68 L297.3,399.68 L297.8,399.68 L298.3,399.68 L298.8,399.68 L299.3,399.68 L299.8,399.68 L300.3,399.68 L300.8,399.68 L301.3,399.68 L301.8,399.68 L302.3,399.68 L302.8,399.68 L303.3,399.68 L303.8,399.68 L304.3,399.68 L304.8,399.68 L305.3,399.68 L305.8,399.68 L306.3,399.68 L306.8,399.68 L307.3,399.68 L307.8,399.68 L308.3,399.68 L308.8,399.68 L309.3,399.68 L309.8,399.68 L310.3,399.68 L310.8,399.68 L311.3,399.68 L311.8,399.68 L312.3,399.68 L312.8,399.68 L313.3,399.68 L313.8,399.68 L314.3,399.68 L314.8,399.68 L315.3,399.68 L315.8,399.68 L316.3,399.68 L316.8,399.68 L317.3,399.68 L317.8,399.68 L318.3,399.68 L318.8,399.68 L319.3,399.68 L319.8,399.68 L320.3,399.68 L320.8,399.68 L321.3,399.68 L321.8,399.68 L322.3,399.68 L322.8,399.68 L323.3,399.68 L323.8,399.68 L324.3,399.68 L324.8,399.68" stroke="#e01818"/>
<path d="M83.8,363.6 L84.3,363.6 L84.8,363.6 L85.3,363.6 L85.8,363.6 L86.3,363.6 L86.8,363.6 L87.3,363.6 L87.8,363.6 L88.3,363.59 L88.8,363.54 L89.3,363.46 L89.8,363.35 L90.3,363.23 L90.8,363.12 L91.3,363.04 L91.8,363 L92.3,362.98 L92.8,362.87 L93.3,362.67 L93.8,362.41 L94.3,362.14 L94.8,361.89 L95.3,361.7 L95.8,361.61 L96.3,361.58 L96.8,361.49 L97.3,361.33 L97.8,361.14 L98.3,360.97 L98.8,360.84 L99.3,360.8 L99.8,360.95 L100.3,361.34 L100.8,361.86 L101.3,362.32 L101.8,362.58 L102.3,362.76 L102.8,363.68 L103.3,365.1 L103.8,366.52 L104.3,367.44 L104.8,367.72 L105.3,368.98 L105.8,371.37 L106.3,374.3 L106.8,377.09 L107.3,379.08 L107.8,379.8 L108.3,380.56 L108.8,382.46 L109.3,384.58 L109.8,385.87 L110.3,386.21 L110.8,387.31 L111.3,388.76 L111.8,389.71 L112.3,389.88 L112.8,390.33 L113.3,391.07 L113.8,391.89 L114.3,392.59 L114.8,392.97 L115.3,393.04 L115.8,393.26 L116.3,393.63 L116.8,394.05 L117.3,394.39 L117.8,394.58 L118.3,391.9 L118.8,391.63 L119.3,391.3 L119.8,390.84 L120.3,390.17 L120.8,389.18 L121.3,388.27 L121.8,386.64 L122.3,384.53 L122.8,381.87 L123.3,378.59 L123.8,374.67 L124.3,370.12 L124.8,365 L125.3,359.46 L125.8,353.69 L126.3,348.01 L126.8,342.78 L127.3,338.45 L127.8,335.5 L128.3,334.3 L128.8,335.04 L129.3,337.64 L129.8,341.78 L130.3,347.01 L130.8,352.87 L131.3,358.94 L131.8,364.9 L132.3,370.49 L132.8,375.56 L133.3,380.01 L133.8,383.8 L134.3,386.95 L134.8,389.49 L135.3,391.51 L135.8,393.08 L136.3,394.28 L136.8,395.2 L137.3,395.89 L137.8,396.42 L138.3,396.83 L138.8,397.15 L139.3,397.4 L139.8,397.61 L140.3,397.79 L140.8,397.94 L141.3,398.07 L141.8,398.18 L142.3,398.29 L142.8,398.38 L143.3,398.46 L143.8,398.54 L144.3,398.6 L144.8,398.67 L145.3,398.72 L145.8,398.78 L146.3,398.83 L146.8,398.87 L147.3,398.91 L147.8,398.95 L148.3,398.99 L148.8,399.02 L149.3,399.05 L149.8,399.08 L150.3,399.11 L150.8,399.13 L151.3,399.16 L151.8,399.18 L152.3,399.2 L152.8,399.22 L153.3,399.24 L153.8,399.26 L154.3,399.27 L154.8,399.29 L155.3,399.3 L155.8,399.32 L156.3,399.33 L156.8,399.34 L157.3,399.36 L157.8,399.37 L158.3,399.38 L158.8,399.39 L159.3,399.4 L159.8,399.41 L160.3,399.42 L160.8,399.43 L161.3,399.43 L161.8,399.44 L162.3,399.45 L162.8,399.46 L163.3,399.46 L163.8,399.47 L164.3,399.48 L164.8,399.48 L165.3,399.49 L165.8,399.49 L166.3,399.5 L166.8,399.5 L167.3,399.51 L167.8,399.51 L168.3,399.52 L168.8,399.52 L169.3,399.53 L169.8,399.53 L170.3,399.54 L170.8,399.54 L171.3,399.54 L171.8,399.55 L172.3,399.55 L172.8,399.55 L173.3,399.56 L173.8,399.56 L174.3,399.56 L174.8,399.57 L175.3,399.57 L175.8,399.57 L176.3,399.57 L176.8,399.58 L177.3,399.58 L177.8,399.58 L178.3,399.58 L178.8,399.59 L179.3,399.59 L179.8,399.59 L180.3,399.59 L180.8,399.59 L181.3,399.6 L181.8,399.6 L182.3,399.6 L182.8,399.6 L183.3,399.6 L183.8,399.61 L184.3,399.61 L184.8,399.61 L185.3,399.61 L185.8,399.61 L186.3,399.61 L186.8,399.61 L187.3,399.62 L187.8,399.62 L188.3,399.62 L188.8,399.62 L189.3,399.62 L189.8,399.62 L190.3,399.62 L190.8,399.63 L191.3,399.63 L191.8,399.63 L192.3,399.63 L192.8,399.63 L193.3,399.63 L193.8,399.63 L194.3,399.63 L194.8,399.63 L195.3,399.64 L195.8,399.64 L196.3,399.64 L196.8,399.64 L197.3,399.64 L197.8,399.64 L198.3,399.64 L198.8,399.64 L199.3,399.64 L199.8,399.64 L200.3,399.64 L200.8,399.64 L201.3,399.65 L201.8,399.65 L202.3,399.65 L202.8,399.65 L203.3,399.65 L203.8,399.65 L204.3,399.65 L204.8,399.65 L205.3,399.65 L205.8,399.65 L206.3,399.65 L206.8,399.65 L207.3,399.65 L207.8,399.65 L208.3,399.65 L208.8,399.66 L209.3,399.66 L209.8,399.66 L210.3,399.66 L210.8,399.66 L211.3,399.66 L211.8,399.66 L212.3,399.66 L212.8,399.66 L213.3,399.66 L213.8,399.66 L214.3,399.66 L214.8,399.66 L215.3,399.66 L215.8,399.66 L216.3,399.66 L216.8,399.66 L217.3,399.66 L217.8,399.66 L218.3,399.66 L218.8,399.66 L219.3,399.66 L219.8,399.67 L220.3,399.67 L220.8,399.67 L221.3,399.67 L221.8,399.67 L222.3,399.67 L222.8,399.67 L223.3,399.67 L223.8,399.67 L224.3,399.67 L224.8,399.67 L225.3,399.67 L225.8,399.67 L226.3,399.67 L226.8,399.67 L227.3,399.67 L227.8,399.67 L228.3,399.67 L228.8,399.67 L229.3,399.67 L229.8,399.67 L230.3,399.67 L230.8,399.67 L231.3,399.67 L231.8,399.67 L232.3,399.67 L232.8,399.67 L233.3,399.67 L233.8,399.67 L234.3,399.67 L234.8,399.67 L235.3,399.67 L235.8,399.67 L236.3,399.68 L236.8,399.68 L237.3,399.68 L237.8,399.68 L238.3,399.68 L238.8,399.68 L239.3,399.68 L239.8,399.68 L240.3,399.68 L240.8,399.68 L241.3,399.68 L241.8,399.68 L242.3,399.68 L242.8,399.68 L243.3,399.68 L243.8,399.68 L244.3,399.68 L244.8,399.68 L245.3,399.68 L245.8,399.68 L246.3,399.68 L246.8,399.68 L247.3,399.68 L247.8,399.68 L248.3,399.68 L248.8,399.68 L249.3,399.68 L249.8,399.68 L250.3,399.68 L250.8,399.68 L251.3,399.68 L251.8,399.68 L252.3,399.68 L252.8,399.68 L253.3,399.68 L253.8,399.68 L254.3,399.68 L254.8,399.68 L255.3,399.68 L255.8,399.68 L256.3,399.68 L256.8,399.68 L257.3,399.68 L257.8,399.68 L258.3,399.68 L258.8,399.68 L259.3,399.68 L259.8,399.68 L260.3,399.68 L260.8,399.68 L261.3,399.68 L261.8,399.68 L262.3,399.68 L262.8,399.68 L263.3,399.68 L263.8,399.68 L264.3,399.68 L264.8,399.68 L265.3,399.68 L265.8,399.68 L266.3,399.68 L266.8,399.68 L267.3,399.68 L267.8,399.69 L268.3,399.69 L268.8,399.69 L269.3,399.69 L269.8,399.69 L270.3,399.69 L270.8,399.69 L271.3,399.69 L271.8,399.69 L272.3,399.69 L272.8,399.69 L273.3,399.69 L273.8,399.69 L274.3,399.69 L274.8,399.69 L275.3,399.69 L275.8,399.69 L276.3,399.69 L276.8,399.69 L277.3,399.69 L277.8,399.69 L278.3,399.69 L278.8,399.69 L279.3,399.69 L279.8,399.69 L280.3,399.69 L280.8,399.69 L281.3,399.69 L281.8,399.69 L282.3,399.69 L282.8,399.69 L283.3,399.69 L283.8,399.69 L284.3,399.69 L284.8,399.69 L285.3,399.69 L285.8,399.69 L286.3,399.69 L286.8,399.69 L287.3,399.69 L287.8,399.69 L288.3,399.69 L288.8,399.69 L289.3,399.69 L289.8,399.69 L290.3,399.69 L290.8,399.69 L291.3,399.69 L291.8,399.69 L292.3,399.69 L292.8,399.69 L293.3,399.69 L293.8,399.69 L294.3,399.69 L294.8,399.69 L295.3,399.69 L295.8,399.69 L296.3,399.69 L296.8,399.69 L297.3,399.69 L297.8,399.69 L298.3,399.69 L298.8,399.69 L299.3,399.69 L299.8,399.69 L300.3,399.69 L300.8,399.69 L301.3,399.69 L301.8,399.69 L302.3,399.69 L302.8,399.69 L303.3,399.69 L303.8,399.69 L304.3,399.69 L304.8,399.69 L305.3,399.69 L305.8,399.69 L306.3,399.69 L306.8,399.69 L307.3,399.69 L307.8,399.69 L308.3,399.69 L308.8,399.69 L309.3,399.69 L309.8,399.69 L310.3,399.69 L310.8,399.69 L311.3,399.69 L311.8,399.69 L312.3,399.69 L312.8,399.69 L313.3,399.69 L313.8,399.69 L314.3,399.69 L314.8,399.69 L315.3,399.69 L315.8,399.69 L316.3,399.69 L316.8,399.69 L317.3,399.69 L317.8,399.69 L318.3,399.69 L318.8,399.69 L319.3,399.69 L319.8,399.69 L320.3,399.69 L320.8,399.69 L321.3,399.69 L321.8,399.69 L322.3,399.69 L322.8,399.69 L323.3,399.69 L323.8,399.69 L324.3,399.69 L324.8,399.69" stroke="#1a1a1a"/>
</g>
<line x1="82" y1="400.2" x2="325" y2="400.2" stroke="#e020e0" stroke-width="2"/>
<g fill="none" stroke-width="1.6" stroke-linejoin="round">
<path d="M176,394.85 L176.5,394.52 L177,394.15 L177.5,393.72 L178,393.22 L178.5,392.64 L179,391.95 L179.5,391.14 L180,390.19 L180.5,389.05 L181,387.71 L181.5,386.14 L182,384.3 L182.5,382.16 L183,379.7 L183.5,376.9 L184,373.73 L184.5,370.21 L185,366.33 L185.5,362.13 L186,357.66 L186.5,353 L187,348.27 L187.5,343.63 L188,339.29 L188.5,335.51 L189,332.55 L189.5,330.65 L190,330 L190.5,330.66 L191,332.57 L191.5,335.55 L192,339.35 L192.5,343.7 L193,348.35 L193.5,353.09 L194,357.76 L194.5,362.25 L195,366.46 L195.5,370.35 L196,373.89 L196.5,377.07 L197,379.89 L197.5,382.36 L198,384.51 L198.5,386.37 L199,387.95 L199.5,389.31 L200,390.45 L200.5,391.42 L201,392.25 L201.5,392.95 L202,393.54 L202.5,394.06 L203,394.5 L203.5,394.88 L204,395.22 L204.5,395.53 L205,395.79 L205.5,396.03 L206,396.24 L206.5,396.44 L207,396.62 L207.5,396.78 L208,396.93 L208.5,397.07 L209,397.2 L209.5,397.32 L210,397.43 L210.5,397.53 L211,397.63 L211.5,397.72 L212,397.81 L212.5,397.88 L213,397.96 L213.5,398.03 L214,398.1 L214.5,398.16 L215,398.22 L215.5,398.27 L216,398.33 L216.5,398.38 L217,398.42 L217.5,398.47 L218,398.51 L218.5,398.55 L219,398.59 L219.5,398.62 L220,398.66 L220.5,398.69 L221,398.72 L221.5,398.75 L222,398.78 L222.5,398.81 L223,398.84 L223.5,398.86 L224,398.89 L224.5,398.91 L225,398.93 L225.5,398.95 L226,398.97 L226.5,398.99 L227,399.01 L227.5,399.03 L228,399.05 L228.5,399.06 L229,399.08 L229.5,399.09 L230,399.11 L230.5,399.12 L231,399.14 L231.5,399.15 L232,399.16 L232.5,399.17 L233,399.19 L233.5,399.2 L234,399.21 L234.5,399.22 L235,399.23 L235.5,399.24 L236,399.25 L236.5,399.26 L237,399.27 L237.5,399.28 L238,399.29 L238.5,399.3 L239,399.3 L239.5,399.31 L240,399.32 L240.5,399.33 L241,399.33 L241.5,399.34 L242,399.35 L242.5,399.35 L243,399.36 L243.5,399.37 L244,399.37 L244.5,399.38 L245,399.38 L245.5,399.39 L246,399.4 L246.5,399.4 L247,399.41 L247.5,399.41 L248,399.42 L248.5,399.42 L249,399.43 L249.5,399.43 L250,399.43 L250.5,399.44 L251,399.44 L251.5,399.45 L252,399.45" stroke="#1818d0"/>
<path d="M83.8,227.15 L84.3,226.4 L84.8,224.5 L85.3,222.38 L85.8,221.08 L86.3,220.79 L86.8,219.87 L87.3,218.55 L87.8,217.4 L88.3,216.95 L88.8,216.77 L89.3,216.31 L89.8,215.8 L90.3,215.48 L90.8,215.5 L91.3,215.8 L91.8,216.25 L92.3,216.68 L92.8,216.93 L93.3,217.16 L93.8,218.34 L94.3,220.14 L94.8,221.86 L95.3,222.85 L95.8,224.07 L96.3,228.98 L96.8,231.85 L97.3,232.89 L97.8,235.7 L98.3,239.41 L98.8,242.89 L99.3,245.06 L99.8,245.63 L100.3,247.57 L100.8,251.08 L101.3,255.09 L101.8,258.36 L102.3,259.9 L102.8,261.81 L103.3,267.94 L103.8,274.07 L104.3,276.11 L104.8,281.12 L105.3,288.46 L105.8,291.14 L106.3,297.1 L106.8,304.14 L107.3,306.83 L107.8,315.1 L108.3,319.94 L108.8,324.78 L109.3,333.05 L109.8,335.51 L110.3,340.97 L110.8,347.74 L111.3,350.04 L111.8,353.44 L112.3,359.33 L112.8,363.51 L113.3,364.23 L113.8,365.92 L114.3,368.69 L114.8,371.79 L115.3,374.39 L115.8,375.8 L116.3,376.06 L116.8,376.79 L117.3,378.08 L117.8,379.73 L118.3,381.48 L118.8,383.07 L119.3,384.27 L119.8,384.87 L120.3,384.97 L120.8,385.21 L121.3,385.65 L121.8,386.27 L122.3,387.01 L122.8,387.84 L123.3,388.68 L123.8,389.5 L124.3,390.22 L124.8,390.8 L125.3,391.21 L125.8,391.4 L126.3,391.43 L126.8,391.51 L127.3,391.66 L127.8,391.86 L128.3,392.12 L128.8,392.43 L129.3,392.77 L129.8,393.12 L130.3,393.48 L130.8,393.84 L131.3,394.17 L131.8,394.47 L132.3,394.72 L132.8,394.91 L133.3,395.04 L133.8,395.11 L134.3,395.11 L134.8,395.14 L135.3,395.18 L135.8,395.24 L136.3,395.32 L136.8,395.41 L137.3,395.52 L137.8,395.64 L138.3,395.77 L138.8,395.91 L139.3,396.05 L139.8,396.19 L140.3,396.33 L140.8,396.46 L141.3,396.59 L141.8,396.71 L142.3,396.82 L142.8,396.91 L143.3,396.98 L143.8,397.04 L144.3,397.07 L144.8,397.09 L145.3,397.09 L145.8,397.1 L146.3,397.11 L146.8,397.13 L147.3,397.15 L147.8,397.17 L148.3,397.2 L148.8,397.24 L149.3,397.27 L149.8,397.32 L150.3,397.36 L150.8,397.41 L151.3,397.46 L151.8,397.51 L152.3,397.56 L152.8,397.61 L153.3,397.66 L153.8,397.71 L154.3,397.76 L154.8,397.8 L155.3,397.85 L155.8,397.89 L156.3,397.93 L156.8,397.96 L157.3,397.99 L157.8,398.01 L158.3,398.03 L158.8,398.05 L159.3,398.06 L159.8,398.06 L160.3,398.66 L160.8,398.66 L161.3,398.66 L161.8,398.65 L162.3,398.65 L162.8,398.65 L163.3,398.65 L163.8,398.65 L164.3,398.65 L164.8,398.64 L165.3,398.64 L165.8,398.64 L166.3,398.64 L166.8,398.64 L167.3,398.64 L167.8,398.63 L168.3,398.63 L168.8,398.63 L169.3,398.63 L169.8,398.63 L170.3,398.62 L170.8,398.62 L171.3,398.62 L171.8,398.62 L172.3,398.62 L172.8,398.61 L173.3,398.61 L173.8,398.61 L174.3,398.61 L174.8,398.61 L175.3,398.6 L175.8,398.6 L176.3,398.6 L176.8,398.6 L177.3,398.59 L177.8,398.59 L178.3,398.59 L178.8,398.59 L179.3,398.58 L179.8,398.58 L180.3,398.58 L180.8,398.58 L181.3,398.57 L181.8,398.57 L182.3,398.57 L182.8,398.56 L183.3,398.56 L183.8,398.56 L184.3,398.55 L184.8,398.55 L185.3,398.55 L185.8,398.54 L186.3,398.54 L186.8,398.54 L187.3,398.53 L187.8,398.53 L188.3,398.53 L188.8,398.52 L189.3,398.52 L189.8,398.51 L190.3,398.51 L190.8,398.51 L191.3,398.5 L191.8,398.5 L192.3,398.49 L192.8,398.49 L193.3,398.48 L193.8,398.48 L194.3,398.47 L194.8,398.47 L195.3,398.46 L195.8,398.46 L196.3,398.45 L196.8,398.45 L197.3,398.44 L197.8,398.44 L198.3,398.43 L198.8,398.43 L199.3,398.42 L199.8,398.41 L200.3,398.41 L200.8,398.4 L201.3,398.39 L201.8,398.39 L202.3,398.38 L202.8,398.37 L203.3,398.36 L203.8,398.36 L204.3,398.35 L204.8,398.34 L205.3,398.33 L205.8,398.32 L206.3,398.31 L206.8,398.31 L207.3,398.3 L207.8,398.29 L208.3,398.28 L208.8,398.27 L209.3,398.26 L209.8,398.25 L210.3,398.23 L210.8,398.22 L211.3,398.21 L211.8,398.2 L212.3,398.19 L212.8,398.17 L213.3,398.16 L213.8,398.15 L214.3,398.13 L214.8,398.12 L215.3,398.1 L215.8,398.09 L216.3,398.07 L216.8,398.05 L217.3,398.04 L217.8,398.02 L218.3,398 L218.8,397.98 L219.3,397.96 L219.8,397.94 L220.3,397.92 L220.8,397.9 L221.3,397.88 L221.8,397.85 L222.3,397.83 L222.8,397.8 L223.3,397.77 L223.8,397.75 L224.3,397.72 L224.8,397.69 L225.3,397.66 L225.8,397.62 L226.3,397.59 L226.8,397.55 L227.3,397.52 L227.8,397.48 L228.3,397.44 L228.8,397.4 L229.3,397.35 L229.8,397.3 L230.3,397.26 L230.8,397.2 L231.3,397.15 L231.8,397.09 L232.3,397.03 L232.8,396.97 L233.3,396.9 L233.8,396.83 L234.3,396.76 L234.8,396.68 L235.3,396.59 L235.8,396.5 L236.3,396.4 L236.8,396.3 L237.3,396.19 L237.8,396.07 L238.3,395.94 L238.8,395.8 L239.3,395.65 L239.8,395.48 L240.3,395.3 L240.8,395.1 L241.3,394.87 L241.8,394.63 L242.3,394.36 L242.8,394.05 L243.3,393.72 L243.8,393.34 L244.3,392.91 L244.8,392.44 L245.3,391.91 L245.8,391.32 L246.3,390.66 L246.8,389.92 L247.3,389.1 L247.8,388.19 L248.3,387.18 L248.8,386.06 L249.3,384.84 L249.8,383.51 L250.3,382.05 L250.8,380.48 L251.3,378.79 L251.8,376.97 L252.3,375.04 L252.8,373.01 L253.3,370.87 L253.8,368.66 L254.3,366.38 L254.8,364.06 L255.3,361.73 L255.8,359.43 L256.3,357.2 L256.8,355.1 L257.3,353.19 L257.8,351.53 L258.3,350.17 L258.8,349.16 L259.3,348.57 L259.8,348.39 L260.3,348.52 L260.8,348.9 L261.3,349.5 L261.8,350.32 L262.3,351.34 L262.8,352.52 L263.3,353.84 L263.8,355.28 L264.3,356.81 L264.8,358.4 L265.3,360.04 L265.8,361.7 L266.3,363.38 L266.8,365.05 L267.3,366.69 L267.8,368.31 L268.3,369.89 L268.8,371.42 L269.3,372.91 L269.8,374.33 L270.3,375.69 L270.8,377 L271.3,378.23 L271.8,379.4 L272.3,380.51 L272.8,381.55 L273.3,382.53 L273.8,383.44 L274.3,384.3 L274.8,385.09 L275.3,385.83 L275.8,386.52 L276.3,387.16 L276.8,387.74 L277.3,388.28 L277.8,388.78 L278.3,389.24 L278.8,389.66 L279.3,390.05 L279.8,390.41 L280.3,390.74 L280.8,391.04 L281.3,391.32 L281.8,391.57 L282.3,391.8 L282.8,392 L283.3,392.16 L283.8,392.28 L284.3,392.34 L284.8,392.34 L285.3,392.29 L285.8,392.22 L286.3,392.17 L286.8,392.2 L287.3,392.33 L287.8,392.55 L288.3,392.84 L288.8,393.15 L289.3,393.44 L289.8,393.68 L290.3,393.86 L290.8,394 L291.3,394.11 L291.8,394.2 L292.3,394.27 L292.8,394.34 L293.3,394.41 L293.8,394.47 L294.3,394.53 L294.8,394.58 L295.3,394.64 L295.8,394.69 L296.3,394.74 L296.8,394.79 L297.3,394.84 L297.8,394.89 L298.3,394.93 L298.8,394.97 L299.3,395.01 L299.8,395.05 L300.3,395.09 L300.8,395.13 L301.3,395.17 L301.8,395.2 L302.3,395.24 L302.8,395.27 L303.3,395.31 L303.8,395.34 L304.3,395.37 L304.8,395.4 L305.3,395.43 L305.8,395.46 L306.3,395.48 L306.8,395.51 L307.3,395.54 L307.8,395.56 L308.3,395.59 L308.8,395.61 L309.3,395.64 L309.8,395.66 L310.3,395.68 L310.8,395.7 L311.3,395.73 L311.8,395.75 L312.3,395.77 L312.8,395.79 L313.3,395.81 L313.8,395.83 L314.3,395.85 L314.8,395.87 L315.3,395.88 L315.8,395.9 L316.3,395.92 L316.8,395.94 L317.3,395.95 L317.8,395.97 L318.3,395.99 L318.8,396 L319.3,396.02 L319.8,396.03 L320.3,396.05 L320.8,396.06 L321.3,396.08 L321.8,396.09 L322.3,396.1 L322.8,396.12 L323.3,396.13 L323.8,396.14 L324.3,396.16 L324.8,396.17" stroke="#e020e0"/>
</g>
<text x="76" y="219.9" font-size="11.4" text-anchor="end" fill="#222">2×10<tspan font-size="7.3" dy="-3.7">-13</tspan></text>
<text x="76" y="266.8" font-size="11.4" text-anchor="end" fill="#222">1×10<tspan font-size="7.3" dy="-3.7">-13</tspan></text>
<text x="76" y="313.5" font-size="11.4" text-anchor="end" fill="#222">8×10<tspan font-size="7.3" dy="-3.7">-14</tspan></text>
<text x="76" y="360.3" font-size="11.4" text-anchor="end" fill="#222">4×10<tspan font-size="7.3" dy="-3.7">-14</tspan></text>
<text x="75.4" y="403" font-size="11" text-anchor="end" fill="#222">0</text>
<text x="106.2" y="416.3" font-size="11" text-anchor="middle" fill="#222">500</text>
<text x="179.6" y="416.3" font-size="11" text-anchor="middle" fill="#222">1000</text>
<text x="252.6" y="416.3" font-size="11" text-anchor="middle" fill="#222">1500</text>
<text x="325.6" y="416.3" font-size="11" text-anchor="middle" fill="#222">2000</text>
<text x="162.6" y="434" font-size="10.8" fill="#222">Wavelength (nm)</text>
<text transform="translate(35.3,308.4) rotate(-90)" font-size="10.8" text-anchor="middle" fill="#222">Absorption Coefficient (a.u.)</text>
<text x="-0.6" y="205.1" font-size="19.5">(b)</text>
<line x1="252.5" y1="221.3" x2="274.3" y2="221.3" stroke="#1a1a1a" stroke-width="1.8"/>
<text x="276" y="224.1" font-size="11" fill="#222">20 nm</text>
<line x1="252.5" y1="234.52" x2="274.3" y2="234.52" stroke="#e01818" stroke-width="1.8"/>
<text x="276" y="237.32" font-size="11" fill="#222">40 nm</text>
<line x1="252.5" y1="247.74" x2="274.3" y2="247.74" stroke="#1818d0" stroke-width="1.8"/>
<text x="276" y="250.54" font-size="11" fill="#222">60 nm</text>
<line x1="252.5" y1="260.96" x2="274.3" y2="260.96" stroke="#2e8c86" stroke-width="1.8"/>
<text x="276" y="263.76" font-size="11" fill="#222">80 nm</text>
<line x1="252.5" y1="274.18" x2="274.3" y2="274.18" stroke="#e020e0" stroke-width="1.8"/>
<text x="276.6" y="276.98" font-size="11" fill="#222">100 nm</text>
<defs>
<clipPath id="ibclip"><rect x="134" y="224.4" width="74.9" height="79.4"/></clipPath>
<filter id="bl3" x="-50%" y="-50%" width="200%" height="200%"><feGaussianBlur stdDeviation="3.2"/></filter>
<filter id="bl2" x="-50%" y="-50%" width="200%" height="200%"><feGaussianBlur stdDeviation="1.6"/></filter>
<filter id="bl1" x="-50%" y="-50%" width="200%" height="200%"><feGaussianBlur stdDeviation="0.9"/></filter>
<filter id="bl07" x="-50%" y="-50%" width="200%" height="200%"><feGaussianBlur stdDeviation="0.7"/></filter>
<filter id="bl05" x="-50%" y="-50%" width="200%" height="200%"><feGaussianBlur stdDeviation="0.5"/></filter>
<filter id="bl6" x="-50%" y="-50%" width="200%" height="200%"><feGaussianBlur stdDeviation="6"/></filter>
<filter id="bl4" x="-50%" y="-50%" width="200%" height="200%"><feGaussianBlur stdDeviation="4.5"/></filter>
<radialGradient id="inner" cx="0.4" cy="0.5" r="0.65"><stop offset="0" stop-color="#46c4f4"/><stop offset="1" stop-color="#38b2f2"/></radialGradient>
<linearGradient id="jet" x1="0" y1="1" x2="0" y2="0"><stop offset="0" stop-color="#00008f"/><stop offset="0.12" stop-color="#0000ff"/><stop offset="0.37" stop-color="#00ffff"/><stop offset="0.5" stop-color="#80ff80"/><stop offset="0.62" stop-color="#ffff00"/><stop offset="0.87" stop-color="#ff0000"/><stop offset="1" stop-color="#8f0000"/></linearGradient>
</defs>
<g clip-path="url(#ibclip)">
<rect x="134" y="224.4" width="74.9" height="79.4" fill="#0c34ec"/>
<ellipse cx="174.2" cy="264" rx="38" ry="40" fill="#1e84f4" filter="url(#bl6)"/>
<ellipse cx="174.2" cy="264" rx="32" ry="34" fill="#32bcf4" filter="url(#bl4)"/>
<ellipse cx="196" cy="246" rx="9" ry="12" fill="#2c9ef4" filter="url(#bl4)"/>
<ellipse cx="196" cy="282" rx="9" ry="12" fill="#2c9ef4" filter="url(#bl4)"/>
<ellipse cx="135.5" cy="264" rx="5.5" ry="15" fill="#041c98" filter="url(#bl3)"/>
<ellipse cx="147" cy="264" rx="3" ry="9" fill="#1050f0" filter="url(#bl2)"/>
<circle cx="173.2" cy="264" r="27.1" fill="none" stroke="#36c8f2" stroke-width="9" filter="url(#bl2)"/>
<circle cx="173.2" cy="264" r="25.4" fill="none" stroke="#40dcf0" stroke-width="4" filter="url(#bl1)"/>
<path d="M149.89,267.69 L148.63,266.68 L147.79,265.54 L147.12,264.32 L146.57,263.04 L146.14,261.71 L145.82,260.35 L145.6,258.95 L145.48,257.53 L145.47,256.1 L145.55,254.66 L145.72,253.21 L145.99,251.77 L146.36,250.34 L146.81,248.93 L147.36,247.54 L147.99,246.17 L148.71,244.84 L149.51,243.55 L150.39,242.3 L151.34,241.1 L152.37,239.96 L153.47,238.87 L154.63,237.84 L155.86,236.88 L157.14,235.99 L158.47,235.17 L159.85,234.43 L161.27,233.77 L162.73,233.18 L164.22,232.68 L165.74,232.27 L167.28,231.94 L168.83,231.71 L170.4,231.56 L171.97,231.51 L173.54,231.55 L175.1,231.69 L176.65,231.91 L178.18,232.23 L179.68,232.64 L181.14,233.13 L182.57,233.72 L183.96,234.38 L185.3,235.13 L186.58,235.95 L187.8,236.85 L188.95,237.82 L190.04,238.85 L191.04,239.95 L191.97,241.1 L192.8,242.3 L193.55,243.55 L194.2,244.85 L194.74,246.18 L195.18,247.54 L195.49,248.93 L195.68,250.33 L195.71,251.76 L195.55,253.21 L194.92,254.78 L194.37,255.01 L193.91,254 L193.41,253.01 L192.85,252.05 L192.25,251.12 L191.61,250.21 L190.92,249.34 L190.19,248.5 L189.43,247.7 L188.62,246.93 L187.78,246.21 L186.9,245.53 L185.99,244.89 L185.06,244.29 L184.09,243.74 L183.1,243.24 L182.09,242.79 L181.05,242.38 L180,242.03 L178.93,241.73 L177.85,241.48 L176.76,241.28 L175.66,241.13 L174.55,241.04 L173.44,241 L172.33,241.02 L171.22,241.09 L170.12,241.21 L169.02,241.38 L167.93,241.61 L166.86,241.89 L165.8,242.22 L164.76,242.61 L163.74,243.04 L162.73,243.52 L161.76,244.05 L160.81,244.62 L159.89,245.24 L159,245.91 L158.14,246.62 L157.32,247.36 L156.53,248.15 L155.79,248.97 L155.08,249.83 L154.42,250.72 L153.8,251.64 L153.23,252.59 L152.7,253.57 L152.22,254.57 L151.79,255.6 L151.41,256.64 L151.08,257.7 L150.8,258.77 L150.58,259.86 L150.4,260.96 L150.28,262.06 L150.21,263.17 L150.2,264.28 L150.24,265.39 L150.34,266.5 L150.48,267.6Z" fill="#34d8f4" filter="url(#bl2)"/>
<path d="M149.69,261.94 L148.99,260.9 L148.6,259.84 L148.34,258.76 L148.17,257.67 L148.09,256.56 L148.09,255.45 L148.16,254.34 L148.29,253.22 L148.5,252.11 L148.77,251.01 L149.1,249.92 L149.5,248.84 L149.95,247.78 L150.46,246.74 L151.03,245.72 L151.65,244.73 L152.33,243.77 L153.05,242.84 L153.83,241.95 L154.65,241.09 L155.51,240.27 L156.42,239.5 L157.37,238.76 L158.35,238.07 L159.37,237.43 L160.42,236.84 L161.5,236.3 L162.6,235.81 L163.73,235.37 L164.88,234.99 L166.05,234.67 L167.23,234.4 L168.42,234.18 L169.63,234.03 L170.83,233.94 L172.04,233.92 L173.25,233.95 L174.46,234.04 L175.65,234.2 L176.83,234.42 L178,234.69 L179.15,235.03 L180.27,235.43 L181.37,235.88 L182.44,236.39 L183.48,236.95 L184.47,237.57 L185.43,238.23 L186.35,238.95 L187.22,239.72 L188.04,240.53 L188.8,241.38 L189.51,242.28 L190.15,243.21 L190.73,244.19 L191.23,245.2 L191.65,246.25 L191.97,247.34 L192.16,248.48 L192.05,249.8 L191.57,250.16 L191,249.43 L190.4,248.73 L189.77,248.05 L189.12,247.4 L188.44,246.77 L187.74,246.18 L187.01,245.61 L186.26,245.07 L185.49,244.56 L184.7,244.08 L183.89,243.64 L183.07,243.22 L182.22,242.84 L181.37,242.5 L180.5,242.19 L179.62,241.91 L178.73,241.67 L177.82,241.47 L176.92,241.3 L176,241.17 L175.08,241.08 L174.16,241.02 L173.24,241 L172.32,241.02 L171.4,241.07 L170.48,241.16 L169.56,241.29 L168.65,241.45 L167.75,241.65 L166.86,241.89 L165.98,242.16 L165.11,242.47 L164.25,242.81 L163.41,243.19 L162.58,243.6 L161.77,244.04 L160.98,244.52 L160.21,245.02 L159.45,245.56 L158.73,246.13 L158.02,246.72 L157.34,247.34 L156.68,247.99 L156.05,248.67 L155.45,249.37 L154.88,250.09 L154.34,250.84 L153.82,251.61 L153.34,252.4 L152.89,253.2 L152.48,254.03 L152.09,254.87 L151.74,255.72 L151.43,256.59 L151.15,257.47 L150.9,258.36 L150.69,259.26 L150.52,260.16 L150.39,261.08 L150.29,262Z" fill="#6ef0a0" filter="url(#bl1)"/>
<path d="M150.4,257.89 L150.02,256.93 L149.88,256 L149.83,255.08 L149.86,254.16 L149.95,253.24 L150.09,252.33 L150.29,251.42 L150.54,250.53 L150.83,249.64 L151.17,248.76 L151.55,247.9 L151.98,247.06 L152.45,246.23 L152.95,245.43 L153.5,244.64 L154.08,243.88 L154.7,243.14 L155.35,242.43 L156.04,241.74 L156.75,241.08 L157.5,240.45 L158.27,239.86 L159.07,239.29 L159.89,238.76 L160.74,238.27 L161.61,237.81 L162.5,237.38 L163.41,237 L164.33,236.65 L165.27,236.34 L166.22,236.07 L167.18,235.84 L168.15,235.65 L169.13,235.5 L170.11,235.4 L171.1,235.34 L172.08,235.32 L173.07,235.36 L174.05,235.43 L175.02,235.55 L175.99,235.71 L176.95,235.92 L177.89,236.17 L178.82,236.46 L179.73,236.8 L180.62,237.18 L181.49,237.6 L182.34,238.05 L183.16,238.55 L183.94,239.09 L184.7,239.67 L185.42,240.28 L186.11,240.93 L186.75,241.62 L187.35,242.35 L187.9,243.11 L188.4,243.91 L188.82,244.75 L189.17,245.66 L189.3,246.74 L188.89,247.18 L188.3,246.65 L187.7,246.14 L187.07,245.66 L186.44,245.19 L185.78,244.75 L185.11,244.33 L184.43,243.93 L183.74,243.56 L183.03,243.21 L182.31,242.88 L181.58,242.58 L180.84,242.31 L180.09,242.06 L179.33,241.83 L178.57,241.64 L177.8,241.46 L177.02,241.32 L176.24,241.2 L175.46,241.11 L174.67,241.05 L173.88,241.01 L173.09,241 L172.3,241.02 L171.52,241.06 L170.73,241.13 L169.95,241.23 L169.17,241.36 L168.39,241.51 L167.62,241.69 L166.86,241.89 L166.11,242.12 L165.36,242.38 L164.62,242.66 L163.89,242.97 L163.18,243.3 L162.47,243.65 L161.78,244.03 L161.1,244.44 L160.44,244.87 L159.79,245.31 L159.16,245.79 L158.54,246.28 L157.94,246.79 L157.36,247.33 L156.8,247.88 L156.25,248.45 L155.73,249.04 L155.23,249.65 L154.74,250.28 L154.28,250.92 L153.85,251.57 L153.43,252.25 L153.04,252.93 L152.67,253.63 L152.33,254.34 L152.01,255.06 L151.71,255.8 L151.44,256.54 L151.2,257.29 L150.98,258.05Z" fill="#eef020" filter="url(#bl07)"/>
<path d="M151.48,254.78 L151.32,253.94 L151.34,253.15 L151.43,252.38 L151.58,251.62 L151.76,250.86 L151.99,250.12 L152.26,249.39 L152.56,248.67 L152.89,247.96 L153.26,247.27 L153.66,246.59 L154.08,245.92 L154.54,245.27 L155.02,244.64 L155.53,244.02 L156.06,243.43 L156.62,242.85 L157.2,242.3 L157.8,241.76 L158.43,241.25 L159.07,240.76 L159.73,240.29 L160.41,239.85 L161.11,239.44 L161.83,239.04 L162.56,238.68 L163.3,238.34 L164.05,238.03 L164.82,237.75 L165.6,237.49 L166.39,237.27 L167.18,237.07 L167.98,236.9 L168.79,236.76 L169.6,236.65 L170.41,236.58 L171.23,236.54 L172.05,236.53 L172.86,236.55 L173.68,236.61 L174.49,236.7 L175.29,236.82 L176.09,236.98 L176.88,237.16 L177.65,237.38 L178.42,237.63 L179.17,237.92 L179.91,238.23 L180.63,238.58 L181.34,238.95 L182.02,239.36 L182.68,239.8 L183.32,240.27 L183.93,240.77 L184.52,241.3 L185.07,241.87 L185.58,242.47 L186.05,243.11 L186.46,243.81 L186.74,244.67 L186.39,245.16 L185.83,244.78 L185.25,244.41 L184.67,244.06 L184.07,243.73 L183.46,243.42 L182.85,243.12 L182.22,242.84 L181.59,242.59 L180.95,242.35 L180.31,242.13 L179.66,241.92 L179,241.74 L178.33,241.58 L177.67,241.44 L177,241.32 L176.32,241.21 L175.64,241.13 L174.96,241.07 L174.28,241.03 L173.6,241 L172.92,241 L172.24,241.02 L171.56,241.06 L170.88,241.12 L170.2,241.2 L169.52,241.3 L168.85,241.41 L168.18,241.55 L167.52,241.71 L166.86,241.89 L166.21,242.09 L165.56,242.31 L164.92,242.54 L164.29,242.8 L163.66,243.07 L163.05,243.36 L162.44,243.67 L161.84,244 L161.25,244.35 L160.67,244.71 L160.11,245.09 L159.55,245.49 L159.01,245.9 L158.48,246.33 L157.96,246.77 L157.46,247.23 L156.96,247.71 L156.49,248.2 L156.03,248.7 L155.58,249.22 L155.15,249.75 L154.74,250.29 L154.34,250.84 L153.95,251.41 L153.59,251.98 L153.24,252.57 L152.91,253.17 L152.6,253.77 L152.3,254.39 L152.03,255.01Z" fill="#ff9800" filter="url(#bl07)"/>
<path d="M153.19,251.49 L153.21,250.81 L153.35,250.19 L153.54,249.59 L153.76,249 L154.02,248.42 L154.3,247.85 L154.6,247.3 L154.93,246.76 L155.27,246.23 L155.64,245.71 L156.03,245.2 L156.43,244.71 L156.86,244.23 L157.3,243.76 L157.75,243.31 L158.22,242.87 L158.71,242.45 L159.21,242.05 L159.73,241.65 L160.26,241.28 L160.8,240.92 L161.35,240.58 L161.92,240.25 L162.49,239.94 L163.07,239.65 L163.67,239.38 L164.27,239.13 L164.88,238.9 L165.5,238.68 L166.12,238.48 L166.75,238.31 L167.39,238.15 L168.03,238.01 L168.67,237.89 L169.32,237.8 L169.97,237.72 L170.63,237.67 L171.28,237.64 L171.93,237.63 L172.59,237.65 L173.24,237.69 L173.89,237.75 L174.53,237.83 L175.17,237.94 L175.81,238.06 L176.44,238.22 L177.07,238.39 L177.68,238.59 L178.29,238.8 L178.88,239.05 L179.47,239.31 L180.04,239.6 L180.6,239.91 L181.15,240.24 L181.68,240.6 L182.19,240.99 L182.68,241.4 L183.14,241.85 L183.57,242.35 L183.91,242.97 L183.64,243.51 L183.13,243.25 L182.62,243.02 L182.09,242.79 L181.57,242.58 L181.04,242.38 L180.5,242.19 L179.96,242.01 L179.41,241.85 L178.86,241.71 L178.31,241.57 L177.75,241.46 L177.19,241.35 L176.63,241.26 L176.07,241.18 L175.5,241.12 L174.94,241.07 L174.37,241.03 L173.8,241.01 L173.23,241 L172.66,241.01 L172.1,241.03 L171.53,241.06 L170.96,241.11 L170.4,241.17 L169.83,241.25 L169.27,241.34 L168.71,241.44 L168.16,241.56 L167.6,241.69 L167.05,241.84 L166.51,242 L165.97,242.17 L165.43,242.35 L164.9,242.55 L164.37,242.76 L163.85,242.99 L163.33,243.23 L162.82,243.48 L162.31,243.74 L161.82,244.01 L161.33,244.3 L160.84,244.6 L160.37,244.91 L159.9,245.24 L159.44,245.57 L158.99,245.92 L158.54,246.27 L158.11,246.64 L157.69,247.02 L157.27,247.41 L156.87,247.81 L156.47,248.22 L156.09,248.63 L155.71,249.06 L155.35,249.5 L154.99,249.95 L154.65,250.4 L154.32,250.86 L154,251.33 L153.69,251.81Z" fill="#f21a00" filter="url(#bl05)"/>
<path d="M157.1,246.74 L157.27,246.35 L157.48,246 L157.71,245.67 L157.96,245.36 L158.21,245.05 L158.48,244.75 L158.75,244.45 L159.04,244.17 L159.33,243.89 L159.62,243.62 L159.93,243.35 L160.24,243.1 L160.56,242.85 L160.88,242.61 L161.21,242.37 L161.55,242.15 L161.89,241.93 L162.23,241.71 L162.58,241.51 L162.94,241.31 L163.3,241.12 L163.66,240.94 L164.03,240.77 L164.4,240.6 L164.78,240.44 L165.16,240.29 L165.54,240.15 L165.93,240.02 L166.32,239.89 L166.71,239.77 L167.1,239.66 L167.5,239.56 L167.9,239.47 L168.3,239.38 L168.7,239.31 L169.1,239.24 L169.51,239.19 L169.91,239.14 L170.32,239.1 L170.73,239.08 L171.14,239.06 L171.54,239.06 L171.95,239.06 L172.36,239.08 L172.77,239.1 L173.17,239.14 L173.58,239.19 L173.98,239.25 L174.38,239.31 L174.78,239.39 L175.17,239.49 L175.56,239.59 L175.95,239.7 L176.34,239.83 L176.72,239.97 L177.09,240.13 L177.46,240.3 L177.83,240.49 L178.18,240.71 L178.51,241 L178.37,241.59 L178.01,241.51 L177.64,241.43 L177.27,241.36 L176.9,241.3 L176.53,241.24 L176.16,241.19 L175.79,241.15 L175.42,241.11 L175.04,241.07 L174.67,241.05 L174.3,241.03 L173.92,241.01 L173.55,241 L173.17,241 L172.8,241 L172.42,241.01 L172.05,241.03 L171.68,241.05 L171.3,241.08 L170.93,241.11 L170.56,241.15 L170.18,241.2 L169.81,241.25 L169.44,241.31 L169.07,241.37 L168.71,241.44 L168.34,241.52 L167.97,241.6 L167.61,241.69 L167.25,241.78 L166.89,241.88 L166.53,241.99 L166.17,242.1 L165.81,242.22 L165.46,242.34 L165.11,242.47 L164.76,242.61 L164.41,242.75 L164.07,242.89 L163.72,243.04 L163.38,243.2 L163.05,243.36 L162.71,243.53 L162.38,243.7 L162.05,243.88 L161.72,244.07 L161.4,244.26 L161.08,244.45 L160.76,244.65 L160.45,244.86 L160.14,245.07 L159.83,245.28 L159.53,245.5 L159.23,245.73 L158.93,245.96 L158.64,246.19 L158.35,246.43 L158.07,246.68 L157.79,246.93 L157.51,247.18Z" fill="#b40000" filter="url(#bl05)"/>
<path d="M149.89,260.31 L148.63,261.32 L147.79,262.46 L147.12,263.68 L146.57,264.96 L146.14,266.29 L145.82,267.65 L145.6,269.05 L145.48,270.47 L145.47,271.9 L145.55,273.34 L145.72,274.79 L145.99,276.23 L146.36,277.66 L146.81,279.07 L147.36,280.46 L147.99,281.83 L148.71,283.16 L149.51,284.45 L150.39,285.7 L151.34,286.9 L152.37,288.04 L153.47,289.13 L154.63,290.16 L155.86,291.12 L157.14,292.01 L158.47,292.83 L159.85,293.57 L161.27,294.23 L162.73,294.82 L164.22,295.32 L165.74,295.73 L167.28,296.06 L168.83,296.29 L170.4,296.44 L171.97,296.49 L173.54,296.45 L175.1,296.31 L176.65,296.09 L178.18,295.77 L179.68,295.36 L181.14,294.87 L182.57,294.28 L183.96,293.62 L185.3,292.87 L186.58,292.05 L187.8,291.15 L188.95,290.18 L190.04,289.15 L191.04,288.05 L191.97,286.9 L192.8,285.7 L193.55,284.45 L194.2,283.15 L194.74,281.82 L195.18,280.46 L195.49,279.07 L195.68,277.67 L195.71,276.24 L195.55,274.79 L194.92,273.22 L194.37,272.99 L193.91,274 L193.41,274.99 L192.85,275.95 L192.25,276.88 L191.61,277.79 L190.92,278.66 L190.19,279.5 L189.43,280.3 L188.62,281.07 L187.78,281.79 L186.9,282.47 L185.99,283.11 L185.06,283.71 L184.09,284.26 L183.1,284.76 L182.09,285.21 L181.05,285.62 L180,285.97 L178.93,286.27 L177.85,286.52 L176.76,286.72 L175.66,286.87 L174.55,286.96 L173.44,287 L172.33,286.98 L171.22,286.91 L170.12,286.79 L169.02,286.62 L167.93,286.39 L166.86,286.11 L165.8,285.78 L164.76,285.39 L163.74,284.96 L162.73,284.48 L161.76,283.95 L160.81,283.38 L159.89,282.76 L159,282.09 L158.14,281.38 L157.32,280.64 L156.53,279.85 L155.79,279.03 L155.08,278.17 L154.42,277.28 L153.8,276.36 L153.23,275.41 L152.7,274.43 L152.22,273.43 L151.79,272.4 L151.41,271.36 L151.08,270.3 L150.8,269.23 L150.58,268.14 L150.4,267.04 L150.28,265.94 L150.21,264.83 L150.2,263.72 L150.24,262.61 L150.34,261.5 L150.48,260.4Z" fill="#34d8f4" filter="url(#bl2)"/>
<path d="M149.69,266.06 L148.99,267.1 L148.6,268.16 L148.34,269.24 L148.17,270.33 L148.09,271.44 L148.09,272.55 L148.16,273.66 L148.29,274.78 L148.5,275.89 L148.77,276.99 L149.1,278.08 L149.5,279.16 L149.95,280.22 L150.46,281.26 L151.03,282.28 L151.65,283.27 L152.33,284.23 L153.05,285.16 L153.83,286.05 L154.65,286.91 L155.51,287.73 L156.42,288.5 L157.37,289.24 L158.35,289.93 L159.37,290.57 L160.42,291.16 L161.5,291.7 L162.6,292.19 L163.73,292.63 L164.88,293.01 L166.05,293.33 L167.23,293.6 L168.42,293.82 L169.63,293.97 L170.83,294.06 L172.04,294.08 L173.25,294.05 L174.46,293.96 L175.65,293.8 L176.83,293.58 L178,293.31 L179.15,292.97 L180.27,292.57 L181.37,292.12 L182.44,291.61 L183.48,291.05 L184.47,290.43 L185.43,289.77 L186.35,289.05 L187.22,288.28 L188.04,287.47 L188.8,286.62 L189.51,285.72 L190.15,284.79 L190.73,283.81 L191.23,282.8 L191.65,281.75 L191.97,280.66 L192.16,279.52 L192.05,278.2 L191.57,277.84 L191,278.57 L190.4,279.27 L189.77,279.95 L189.12,280.6 L188.44,281.23 L187.74,281.82 L187.01,282.39 L186.26,282.93 L185.49,283.44 L184.7,283.92 L183.89,284.36 L183.07,284.78 L182.22,285.16 L181.37,285.5 L180.5,285.81 L179.62,286.09 L178.73,286.33 L177.82,286.53 L176.92,286.7 L176,286.83 L175.08,286.92 L174.16,286.98 L173.24,287 L172.32,286.98 L171.4,286.93 L170.48,286.84 L169.56,286.71 L168.65,286.55 L167.75,286.35 L166.86,286.11 L165.98,285.84 L165.11,285.53 L164.25,285.19 L163.41,284.81 L162.58,284.4 L161.77,283.96 L160.98,283.48 L160.21,282.98 L159.45,282.44 L158.73,281.87 L158.02,281.28 L157.34,280.66 L156.68,280.01 L156.05,279.33 L155.45,278.63 L154.88,277.91 L154.34,277.16 L153.82,276.39 L153.34,275.6 L152.89,274.8 L152.48,273.97 L152.09,273.13 L151.74,272.28 L151.43,271.41 L151.15,270.53 L150.9,269.64 L150.69,268.74 L150.52,267.84 L150.39,266.92 L150.29,266Z" fill="#6ef0a0" filter="url(#bl1)"/>
<path d="M150.4,270.11 L150.02,271.07 L149.88,272 L149.83,272.92 L149.86,273.84 L149.95,274.76 L150.09,275.67 L150.29,276.58 L150.54,277.47 L150.83,278.36 L151.17,279.24 L151.55,280.1 L151.98,280.94 L152.45,281.77 L152.95,282.57 L153.5,283.36 L154.08,284.12 L154.7,284.86 L155.35,285.57 L156.04,286.26 L156.75,286.92 L157.5,287.55 L158.27,288.14 L159.07,288.71 L159.89,289.24 L160.74,289.73 L161.61,290.19 L162.5,290.62 L163.41,291 L164.33,291.35 L165.27,291.66 L166.22,291.93 L167.18,292.16 L168.15,292.35 L169.13,292.5 L170.11,292.6 L171.1,292.66 L172.08,292.68 L173.07,292.64 L174.05,292.57 L175.02,292.45 L175.99,292.29 L176.95,292.08 L177.89,291.83 L178.82,291.54 L179.73,291.2 L180.62,290.82 L181.49,290.4 L182.34,289.95 L183.16,289.45 L183.94,288.91 L184.7,288.33 L185.42,287.72 L186.11,287.07 L186.75,286.38 L187.35,285.65 L187.9,284.89 L188.4,284.09 L188.82,283.25 L189.17,282.34 L189.3,281.26 L188.89,280.82 L188.3,281.35 L187.7,281.86 L187.07,282.34 L186.44,282.81 L185.78,283.25 L185.11,283.67 L184.43,284.07 L183.74,284.44 L183.03,284.79 L182.31,285.12 L181.58,285.42 L180.84,285.69 L180.09,285.94 L179.33,286.17 L178.57,286.36 L177.8,286.54 L177.02,286.68 L176.24,286.8 L175.46,286.89 L174.67,286.95 L173.88,286.99 L173.09,287 L172.3,286.98 L171.52,286.94 L170.73,286.87 L169.95,286.77 L169.17,286.64 L168.39,286.49 L167.62,286.31 L166.86,286.11 L166.11,285.88 L165.36,285.62 L164.62,285.34 L163.89,285.03 L163.18,284.7 L162.47,284.35 L161.78,283.97 L161.1,283.56 L160.44,283.13 L159.79,282.69 L159.16,282.21 L158.54,281.72 L157.94,281.21 L157.36,280.67 L156.8,280.12 L156.25,279.55 L155.73,278.96 L155.23,278.35 L154.74,277.72 L154.28,277.08 L153.85,276.43 L153.43,275.75 L153.04,275.07 L152.67,274.37 L152.33,273.66 L152.01,272.94 L151.71,272.2 L151.44,271.46 L151.2,270.71 L150.98,269.95Z" fill="#eef020" filter="url(#bl07)"/>
<path d="M151.48,273.22 L151.32,274.06 L151.34,274.85 L151.43,275.62 L151.58,276.38 L151.76,277.14 L151.99,277.88 L152.26,278.61 L152.56,279.33 L152.89,280.04 L153.26,280.73 L153.66,281.41 L154.08,282.08 L154.54,282.73 L155.02,283.36 L155.53,283.98 L156.06,284.57 L156.62,285.15 L157.2,285.7 L157.8,286.24 L158.43,286.75 L159.07,287.24 L159.73,287.71 L160.41,288.15 L161.11,288.56 L161.83,288.96 L162.56,289.32 L163.3,289.66 L164.05,289.97 L164.82,290.25 L165.6,290.51 L166.39,290.73 L167.18,290.93 L167.98,291.1 L168.79,291.24 L169.6,291.35 L170.41,291.42 L171.23,291.46 L172.05,291.47 L172.86,291.45 L173.68,291.39 L174.49,291.3 L175.29,291.18 L176.09,291.02 L176.88,290.84 L177.65,290.62 L178.42,290.37 L179.17,290.08 L179.91,289.77 L180.63,289.42 L181.34,289.05 L182.02,288.64 L182.68,288.2 L183.32,287.73 L183.93,287.23 L184.52,286.7 L185.07,286.13 L185.58,285.53 L186.05,284.89 L186.46,284.19 L186.74,283.33 L186.39,282.84 L185.83,283.22 L185.25,283.59 L184.67,283.94 L184.07,284.27 L183.46,284.58 L182.85,284.88 L182.22,285.16 L181.59,285.41 L180.95,285.65 L180.31,285.87 L179.66,286.08 L179,286.26 L178.33,286.42 L177.67,286.56 L177,286.68 L176.32,286.79 L175.64,286.87 L174.96,286.93 L174.28,286.97 L173.6,287 L172.92,287 L172.24,286.98 L171.56,286.94 L170.88,286.88 L170.2,286.8 L169.52,286.7 L168.85,286.59 L168.18,286.45 L167.52,286.29 L166.86,286.11 L166.21,285.91 L165.56,285.69 L164.92,285.46 L164.29,285.2 L163.66,284.93 L163.05,284.64 L162.44,284.33 L161.84,284 L161.25,283.65 L160.67,283.29 L160.11,282.91 L159.55,282.51 L159.01,282.1 L158.48,281.67 L157.96,281.23 L157.46,280.77 L156.96,280.29 L156.49,279.8 L156.03,279.3 L155.58,278.78 L155.15,278.25 L154.74,277.71 L154.34,277.16 L153.95,276.59 L153.59,276.02 L153.24,275.43 L152.91,274.83 L152.6,274.23 L152.3,273.61 L152.03,272.99Z" fill="#ff9800" filter="url(#bl07)"/>
<path d="M153.19,276.51 L153.21,277.19 L153.35,277.81 L153.54,278.41 L153.76,279 L154.02,279.58 L154.3,280.15 L154.6,280.7 L154.93,281.24 L155.27,281.77 L155.64,282.29 L156.03,282.8 L156.43,283.29 L156.86,283.77 L157.3,284.24 L157.75,284.69 L158.22,285.13 L158.71,285.55 L159.21,285.95 L159.73,286.35 L160.26,286.72 L160.8,287.08 L161.35,287.42 L161.92,287.75 L162.49,288.06 L163.07,288.35 L163.67,288.62 L164.27,288.87 L164.88,289.1 L165.5,289.32 L166.12,289.52 L166.75,289.69 L167.39,289.85 L168.03,289.99 L168.67,290.11 L169.32,290.2 L169.97,290.28 L170.63,290.33 L171.28,290.36 L171.93,290.37 L172.59,290.35 L173.24,290.31 L173.89,290.25 L174.53,290.17 L175.17,290.06 L175.81,289.94 L176.44,289.78 L177.07,289.61 L177.68,289.41 L178.29,289.2 L178.88,288.95 L179.47,288.69 L180.04,288.4 L180.6,288.09 L181.15,287.76 L181.68,287.4 L182.19,287.01 L182.68,286.6 L183.14,286.15 L183.57,285.65 L183.91,285.03 L183.64,284.49 L183.13,284.75 L182.62,284.98 L182.09,285.21 L181.57,285.42 L181.04,285.62 L180.5,285.81 L179.96,285.99 L179.41,286.15 L178.86,286.29 L178.31,286.43 L177.75,286.54 L177.19,286.65 L176.63,286.74 L176.07,286.82 L175.5,286.88 L174.94,286.93 L174.37,286.97 L173.8,286.99 L173.23,287 L172.66,286.99 L172.1,286.97 L171.53,286.94 L170.96,286.89 L170.4,286.83 L169.83,286.75 L169.27,286.66 L168.71,286.56 L168.16,286.44 L167.6,286.31 L167.05,286.16 L166.51,286 L165.97,285.83 L165.43,285.65 L164.9,285.45 L164.37,285.24 L163.85,285.01 L163.33,284.77 L162.82,284.52 L162.31,284.26 L161.82,283.99 L161.33,283.7 L160.84,283.4 L160.37,283.09 L159.9,282.76 L159.44,282.43 L158.99,282.08 L158.54,281.73 L158.11,281.36 L157.69,280.98 L157.27,280.59 L156.87,280.19 L156.47,279.78 L156.09,279.37 L155.71,278.94 L155.35,278.5 L154.99,278.05 L154.65,277.6 L154.32,277.14 L154,276.67 L153.69,276.19Z" fill="#f21a00" filter="url(#bl05)"/>
<path d="M157.1,281.26 L157.27,281.65 L157.48,282 L157.71,282.33 L157.96,282.64 L158.21,282.95 L158.48,283.25 L158.75,283.55 L159.04,283.83 L159.33,284.11 L159.62,284.38 L159.93,284.65 L160.24,284.9 L160.56,285.15 L160.88,285.39 L161.21,285.63 L161.55,285.85 L161.89,286.07 L162.23,286.29 L162.58,286.49 L162.94,286.69 L163.3,286.88 L163.66,287.06 L164.03,287.23 L164.4,287.4 L164.78,287.56 L165.16,287.71 L165.54,287.85 L165.93,287.98 L166.32,288.11 L166.71,288.23 L167.1,288.34 L167.5,288.44 L167.9,288.53 L168.3,288.62 L168.7,288.69 L169.1,288.76 L169.51,288.81 L169.91,288.86 L170.32,288.9 L170.73,288.92 L171.14,288.94 L171.54,288.94 L171.95,288.94 L172.36,288.92 L172.77,288.9 L173.17,288.86 L173.58,288.81 L173.98,288.75 L174.38,288.69 L174.78,288.61 L175.17,288.51 L175.56,288.41 L175.95,288.3 L176.34,288.17 L176.72,288.03 L177.09,287.87 L177.46,287.7 L177.83,287.51 L178.18,287.29 L178.51,287 L178.37,286.41 L178.01,286.49 L177.64,286.57 L177.27,286.64 L176.9,286.7 L176.53,286.76 L176.16,286.81 L175.79,286.85 L175.42,286.89 L175.04,286.93 L174.67,286.95 L174.3,286.97 L173.92,286.99 L173.55,287 L173.17,287 L172.8,287 L172.42,286.99 L172.05,286.97 L171.68,286.95 L171.3,286.92 L170.93,286.89 L170.56,286.85 L170.18,286.8 L169.81,286.75 L169.44,286.69 L169.07,286.63 L168.71,286.56 L168.34,286.48 L167.97,286.4 L167.61,286.31 L167.25,286.22 L166.89,286.12 L166.53,286.01 L166.17,285.9 L165.81,285.78 L165.46,285.66 L165.11,285.53 L164.76,285.39 L164.41,285.25 L164.07,285.11 L163.72,284.96 L163.38,284.8 L163.05,284.64 L162.71,284.47 L162.38,284.3 L162.05,284.12 L161.72,283.93 L161.4,283.74 L161.08,283.55 L160.76,283.35 L160.45,283.14 L160.14,282.93 L159.83,282.72 L159.53,282.5 L159.23,282.27 L158.93,282.04 L158.64,281.81 L158.35,281.57 L158.07,281.32 L157.79,281.07 L157.51,280.82Z" fill="#b40000" filter="url(#bl05)"/>
</g>
<circle cx="173.2" cy="264" r="23.6" fill="url(#inner)" stroke="#20486e" stroke-width="0.5"/>
<path d="M149.6,264H196.8M173.2,240.4V287.6" stroke="#20486e" stroke-width="0.4"/>
<line x1="182.3" y1="298.4" x2="205.9" y2="298.4" stroke="#fff" stroke-width="1.6"/>
<rect x="212.9" y="229.5" width="2.7" height="69.8" fill="url(#jet)"/>
<text x="217.9" y="234.2" font-size="10.6" fill="#111">20</text>
<text x="217.5" y="299.4" font-size="10.6" fill="#111">0</text>
<text x="204.8" y="220.8" font-size="11.6" fill="#111">IE/E<tspan font-size="8.8" dy="2.6">0</tspan><tspan dy="-2.6">I</tspan><tspan font-size="8.8" dy="-4.6">2</tspan></text>
<line x1="400" y1="199.5" x2="679" y2="199.5" stroke="#f2f2f2" stroke-width="1"/>
<path d="M432.8,225.1H444.3M432.8,283.9H444.3M432.8,342.4H444.3M660.3,224.9H652.3M660.3,283.9H652.3M660.3,342.5H648.3M450.2,202.8V213.8M450.2,401.2V390.2M520.1,202.8V213.8M520.1,401.2V390.2M590.1,202.8V213.8M590.1,401.2V390.2M485.1,202.8V208.6M485.1,401.2V395.4M555.1,202.8V208.6M555.1,401.2V395.4M625,202.8V208.6M625,401.2V395.4" stroke="#111" stroke-width="1.6" fill="none"/>
<g fill="none" stroke-width="3.1" stroke-linejoin="round" stroke-linecap="round">
<path d="M433.5,397 C433.92,396.67 435.25,394.83 436,395 C436.75,395.17 437.17,397.83 438,398 C438.83,398.17 440,395.83 441,396 C442,396.17 443,398.83 444,399 C445,399.17 446,397.17 447,397 C448,396.83 449,398 450,398 C451,398 452,397.33 453,397 C454,396.67 455.12,396.07 456,396 C456.88,395.93 457.3,397.93 458.3,396.6 C459.3,395.27 460.8,390.17 462,388 C463.2,385.83 464.23,384.67 465.5,383.6 C466.77,382.53 468.4,382.37 469.6,381.6 C470.8,380.83 471.17,379.6 472.7,379 C474.23,378.4 477.02,378.6 478.8,378 C480.58,377.4 482.2,377.18 483.4,375.4 C484.6,373.62 484.88,369.5 486,367.3 C487.12,365.1 488.57,364.25 490.1,362.2 C491.63,360.15 493.97,357.2 495.2,355 C496.43,352.8 496.7,351 497.5,349 C498.3,347 499.42,344.48 500,343 C500.58,341.52 500.05,342.58 501,340.1 C501.95,337.62 504.27,331.4 505.7,328.1 C507.13,324.8 508.28,322.25 509.6,320.3 C510.92,318.35 512.37,317.25 513.6,316.4 C514.83,315.55 515.85,315.43 517,315.2 C518.15,314.97 519.33,314.93 520.5,315 C521.67,315.07 522.68,315.28 524,315.6 C525.32,315.92 526.82,316.12 528.4,316.9 C529.98,317.68 531.85,319.02 533.5,320.3 C535.15,321.58 535.55,321.65 538.3,324.6 C541.05,327.55 539.72,333.43 550,338 C560.28,342.57 585.67,349.95 600,352 C614.33,354.05 628.62,350.97 636,350.3 C643.38,349.63 641.97,348.65 644.3,348 C646.63,347.35 647.38,347.32 650,346.4 C652.62,345.48 658.33,343.15 660,342.5" stroke="#0c16d6"/>
<path d="M433.5,392 C433.92,391.33 435.25,387.67 436,388 C436.75,388.33 437.33,393.67 438,394 C438.67,394.33 439.17,389.83 440,390 C440.83,390.17 442,394.67 443,395 C444,395.33 445,392.17 446,392 C447,391.83 448,394.33 449,394 C450,393.67 451,390.5 452,390 C453,389.5 453.95,390.68 455,391 C456.05,391.32 457.22,392.73 458.3,391.9 C459.38,391.07 460.63,387.9 461.5,386 C462.37,384.1 462.48,382.08 463.5,380.5 C464.52,378.92 466.07,377.85 467.6,376.5 C469.13,375.15 471.17,373.93 472.7,372.4 C474.23,370.87 475.43,369 476.8,367.3 C478.17,365.6 479.8,364.25 480.9,362.2 C482,360.15 482.78,356.95 483.4,355 C484.02,353.05 483.75,353.85 484.6,350.5 C485.45,347.15 487.47,338.88 488.5,334.9 C489.53,330.92 490,329.75 490.8,326.6 C491.6,323.45 492.38,319.27 493.3,316 C494.22,312.73 495.35,309.75 496.3,307 C497.25,304.25 498.1,301.57 499,299.5 C499.9,297.43 500.95,295.75 501.7,294.6 C502.45,293.45 502.87,293 503.5,292.6 C504.13,292.2 504.83,292.1 505.5,292.2 C506.17,292.3 506.83,292.82 507.5,293.2 C508.17,293.58 508.83,294 509.5,294.5 C510.17,295 510.9,295.55 511.5,296.2 C512.1,296.85 512.27,297.25 513.1,298.4 C513.93,299.55 515.22,301.32 516.5,303.1 C517.78,304.88 519.38,307.25 520.8,309.1 C522.22,310.95 523.58,312.65 525,314.2 C526.42,315.75 527.88,317.05 529.3,318.4 C530.72,319.75 532,320.9 533.5,322.3 C535,323.7 535.55,324.18 538.3,326.8 C541.05,329.42 539.72,333.8 550,338 C560.28,342.2 585.67,349.95 600,352 C614.33,354.05 628.62,350.97 636,350.3 C643.38,349.63 641.97,348.65 644.3,348 C646.63,347.35 647.38,347.32 650,346.4 C652.62,345.48 658.33,343.15 660,342.5" stroke="#d80c12"/>
<path d="M437,399 C437.5,398.5 438.97,395.75 440,396 C441.03,396.25 442.2,400.67 443.2,400.5 C444.2,400.33 445.03,396.75 446,395 C446.97,393.25 448,391.67 449,390 C450,388.33 451,385.83 452,385 C453,384.17 454,385.5 455,385 C456,384.5 457.1,382.92 458,382 C458.9,381.08 459.65,380.6 460.4,379.5 C461.15,378.4 461.38,377.43 462.5,375.4 C463.62,373.37 466,369.33 467.1,367.3 C468.2,365.27 468.42,365.25 469.1,363.2 C469.78,361.15 470.52,358.22 471.2,355 C471.88,351.78 472.12,348.75 473.2,343.9 C474.28,339.05 476.2,331.88 477.7,325.9 C479.2,319.92 480.85,313.98 482.2,308 C483.55,302.02 485.1,294.12 485.8,290 C486.5,285.88 485.85,285.47 486.4,283.3 C486.95,281.13 488.2,278.35 489.1,277 C490,275.65 491.05,275.63 491.8,275.2 C492.55,274.77 492.9,274.35 493.6,274.4 C494.3,274.45 495.1,274.73 496,275.5 C496.9,276.27 498,277.58 499,279 C500,280.42 500.83,282.03 502,284 C503.17,285.97 504.83,288.63 506,290.8 C507.17,292.97 508.23,295.42 509,297 C509.77,298.58 510.05,299.17 510.6,300.3 C511.15,301.43 511.65,302.58 512.3,303.8 C512.95,305.02 513.8,306.42 514.5,307.6 C515.2,308.78 515.45,309.5 516.5,310.9 C517.55,312.3 519.38,314.45 520.8,316 C522.22,317.55 523.58,318.93 525,320.2 C526.42,321.47 527.08,322.12 529.3,323.6 C531.52,325.08 534.85,326.37 538.3,329.1 C541.75,331.83 546.38,336.72 550,340 C553.62,343.28 555,346.55 560,348.8 C565,351.05 573.62,352.35 580,353.5 C586.38,354.65 591.42,355.25 598.3,355.7 C605.18,356.15 613.63,356.42 621.3,356.2 C628.97,355.98 637.85,354.68 644.3,354.4 C650.75,354.12 657.38,354.48 660,354.5" stroke="#1cc81c"/>
<path d="M433.5,386 C433.75,387 434.42,392.17 435,392 C435.58,391.83 436.33,385.33 437,385 C437.67,384.67 438.33,389.83 439,390 C439.67,390.17 440.33,385.67 441,386 C441.67,386.33 442.33,391.67 443,392 C443.67,392.33 444.33,389.33 445,388 C445.67,386.67 446.38,384.5 447,384 C447.62,383.5 448.17,386.43 448.7,385 C449.23,383.57 449.6,377.85 450.2,375.4 C450.8,372.95 451.45,372 452.3,370.3 C453.15,368.6 454.12,366.55 455.3,365.2 C456.48,363.85 458.37,363.9 459.4,362.2 C460.43,360.5 460.83,358.05 461.5,355 C462.17,351.95 462.55,346.35 463.4,343.9 C464.25,341.45 465.87,343.3 466.6,340.3 C467.33,337.3 467,331.28 467.8,325.9 C468.6,320.52 470.35,313.98 471.4,308 C472.45,302.02 473.53,295.02 474.1,290 C474.67,284.98 474.23,282.32 474.8,277.9 C475.37,273.48 476.47,267.7 477.5,263.5 C478.53,259.3 479.97,255.55 481,252.7 C482.03,249.85 482.65,247 483.7,246.4 C484.75,245.8 486.25,247.67 487.3,249.1 C488.35,250.53 489.05,252.68 490,255 C490.95,257.32 492.17,260.83 493,263 C493.83,265.17 494.2,266.12 495,268 C495.8,269.88 496.87,272.2 497.8,274.3 C498.73,276.4 499.67,278.43 500.6,280.6 C501.53,282.77 502.47,284.98 503.4,287.3 C504.33,289.62 505.43,292.33 506.2,294.5 C506.97,296.67 507.37,298.55 508,300.3 C508.63,302.05 509.28,303.53 510,305 C510.72,306.47 511.55,307.87 512.3,309.1 C513.05,310.33 513.8,311.42 514.5,312.4 C515.2,313.38 515.45,313.85 516.5,315 C517.55,316.15 519.38,318.02 520.8,319.3 C522.22,320.58 523.58,321.63 525,322.7 C526.42,323.77 527.88,324.78 529.3,325.7 C530.72,326.62 532,327.38 533.5,328.2 C535,329.02 536.38,329.3 538.3,330.6 C540.22,331.9 541.38,333.93 545,336 C548.62,338.07 554.17,340.83 560,343 C565.83,345.17 572.33,347.37 580,349 C587.67,350.63 598.6,352.3 606,352.8 C613.4,353.3 619.4,352.45 624.4,352 C629.4,351.55 632.68,350.8 636,350.1 C639.32,349.4 641.97,348.43 644.3,347.8 C646.63,347.17 647.38,347.22 650,346.3 C652.62,345.38 658.33,342.97 660,342.3" stroke="#ffaa12"/>
<path d="M433.5,392 C433.67,390 434.08,383 434.5,380 C434.92,377 435.5,374.33 436,374 C436.5,373.67 437.08,378.33 437.5,378 C437.92,377.67 438.08,371.67 438.5,372 C438.92,372.33 439.5,377.67 440,380 C440.5,382.33 441,386.17 441.5,386 C442,385.83 442.5,379.33 443,379 C443.5,378.67 444,384.33 444.5,384 C445,383.67 445.55,379.28 446,377 C446.45,374.72 446.67,372.6 447.2,370.3 C447.73,368 448.62,365.75 449.2,363.2 C449.78,360.65 449.98,358.22 450.7,355 C451.42,351.78 452.28,348.73 453.5,343.9 C454.72,339.07 456.07,333.03 458,326 C459.93,318.97 463.62,306.5 465.1,301.7 C466.58,296.9 466.48,298.3 466.9,297.2 C467.32,296.1 467.33,298.32 467.6,295.1 C467.87,291.88 468.05,283.77 468.5,277.9 C468.95,272.03 469.7,265.9 470.3,259.9 C470.9,253.9 471.5,246.68 472.1,241.9 C472.7,237.12 473.3,233.7 473.9,231.2 C474.5,228.7 474.95,227.62 475.7,226.9 C476.45,226.18 477.67,226.18 478.4,226.9 C479.13,227.62 479.22,229 480.1,231.2 C480.98,233.4 482.5,236.82 483.7,240.1 C484.9,243.38 486.08,247.25 487.3,250.9 C488.52,254.55 489.88,258.65 491,262 C492.12,265.35 492.97,267.9 494,271 C495.03,274.1 496.2,277.85 497.2,280.6 C498.2,283.35 499.07,285.27 500,287.5 C500.93,289.73 501.87,291.95 502.8,294 C503.73,296.05 504.73,297.93 505.6,299.8 C506.47,301.67 507.27,303.62 508,305.2 C508.73,306.78 509.28,308.02 510,309.3 C510.72,310.58 511.55,311.8 512.3,312.9 C513.05,314 513.8,314.98 514.5,315.9 C515.2,316.82 515.45,317.33 516.5,318.4 C517.55,319.47 519.38,321.17 520.8,322.3 C522.22,323.43 523.58,324.22 525,325.2 C526.42,326.18 527.88,327.27 529.3,328.2 C530.72,329.13 532,329.97 533.5,330.8 C535,331.63 536.38,332 538.3,333.2 C540.22,334.4 541.38,336.03 545,338 C548.62,339.97 554.95,343.13 560,345 C565.05,346.87 568.92,348.27 575.3,349.2 C581.68,350.13 590.63,350.43 598.3,350.6 C605.97,350.77 616.02,350.63 621.3,350.2 C626.58,349.77 626.88,349.53 630,348 C633.12,346.47 637.5,342.55 640,341 C642.5,339.45 642.5,339.5 645,338.7 C647.5,337.9 652.5,336.48 655,336.2 C657.5,335.92 659.17,336.87 660,337" stroke="#7212d2"/>
</g>
<path d="M433.5,384 C433.92,383 435.25,377.67 436,378 C436.75,378.33 437.33,385.67 438,386 C438.67,386.33 439.33,379.33 440,380 C440.67,380.67 441.33,388 442,390 C442.67,392 443.33,391.17 444,392 C444.67,392.83 445.17,395.67 446,395 C446.83,394.33 448,391 449,388 C450,385 451,378.17 452,377 C453,375.83 454,379.83 455,381 C456,382.17 457.17,383.83 458,384 C458.83,384.17 459.33,382.92 460,382 C460.67,381.08 461.33,380.1 462,378.5 C462.67,376.9 463.33,374.1 464,372.4 C464.67,370.7 464.88,368.9 466,368.3 C467.12,367.7 469.07,368.47 470.7,368.8 C472.33,369.13 474.42,369.77 475.8,370.3 C477.18,370.83 477.98,371.38 479,372 C480.02,372.62 481.07,374.33 481.9,374 C482.73,373.67 483.4,371.12 484,370 C484.6,368.88 484.5,367.83 485.5,367.3 C486.5,366.77 487.37,366.72 490,366.8 C492.63,366.88 497.97,367.38 501.3,367.8 C504.63,368.22 507.15,368.88 510,369.3 C512.85,369.72 515.07,369.88 518.4,370.3 C521.73,370.72 524.17,371.12 530,371.8 C535.83,372.48 546.73,373.73 553.4,374.4 C560.07,375.07 563.9,375.5 570,375.8 C576.1,376.1 583.33,376.23 590,376.2 C596.67,376.17 604.17,375.73 610,375.6 C615.83,375.47 621.67,375.62 625,375.4 C628.33,375.18 628.33,374.68 630,374.3 C631.67,373.92 632.5,373.38 635,373.1 C637.5,372.82 642.17,372.45 645,372.6 C647.83,372.75 649.5,373.57 652,374 C654.5,374.43 658.67,375 660,375.2" fill="none" stroke="#1cc81c" stroke-width="3.3" stroke-dasharray="4.5 5"/>
<path d="M433.5,384 C433.92,383 435.25,377.67 436,378 C436.75,378.33 437.33,385.67 438,386 C438.67,386.33 439.33,379.33 440,380 C440.67,380.67 441.33,388 442,390 C442.67,392 443.33,391.17 444,392 C444.67,392.83 445.17,395.67 446,395 C446.83,394.33 448,391 449,388 C450,385 451,378.17 452,377 C453,375.83 454,379.83 455,381 C456,382.17 457.17,383.83 458,384 C458.83,384.17 459.33,382.92 460,382 C460.67,381.08 461.33,380.1 462,378.5 C462.67,376.9 463.33,374.1 464,372.4 C464.67,370.7 464.88,368.9 466,368.3 C467.12,367.7 469.07,368.47 470.7,368.8 C472.33,369.13 474.42,369.77 475.8,370.3 C477.18,370.83 477.98,371.38 479,372 C480.02,372.62 481.07,374.33 481.9,374 C482.73,373.67 483.4,371.12 484,370 C484.6,368.88 484.5,367.83 485.5,367.3 C486.5,366.77 487.37,366.72 490,366.8 C492.63,366.88 497.97,367.38 501.3,367.8 C504.63,368.22 507.15,368.88 510,369.3 C512.85,369.72 515.07,369.88 518.4,370.3 C521.73,370.72 524.17,371.12 530,371.8 C535.83,372.48 546.73,373.73 553.4,374.4 C560.07,375.07 563.9,375.5 570,375.8 C576.1,376.1 583.33,376.23 590,376.2 C596.67,376.17 604.17,375.73 610,375.6 C615.83,375.47 621.67,375.62 625,375.4 C628.33,375.18 628.33,374.68 630,374.3 C631.67,373.92 632.5,373.38 635,373.1 C637.5,372.82 642.17,372.45 645,372.6 C647.83,372.75 649.5,373.57 652,374 C654.5,374.43 658.67,375 660,375.2" fill="none" stroke="#7212d2" stroke-width="3.8" stroke-dasharray="5.2 4.3" stroke-dashoffset="5"/>
<path d="M433.5,384 C433.92,383 435.25,377.67 436,378 C436.75,378.33 437.33,385.67 438,386 C438.67,386.33 439.33,379.33 440,380 C440.67,380.67 441.33,388 442,390 C442.67,392 443.33,391.17 444,392 C444.67,392.83 445.17,395.67 446,395 C446.83,394.33 448,391 449,388 C450,385 451,378.17 452,377 C453,375.83 454,379.83 455,381 C456,382.17 457.17,383.83 458,384 C458.83,384.17 459.33,382.92 460,382 C460.67,381.08 461.33,380.1 462,378.5 C462.67,376.9 463.33,374.1 464,372.4 C464.67,370.7 464.88,368.9 466,368.3 C467.12,367.7 469.07,368.47 470.7,368.8 C472.33,369.13 474.42,369.77 475.8,370.3 C477.18,370.83 477.98,371.38 479,372 C480.02,372.62 481.07,374.33 481.9,374 C482.73,373.67 483.4,371.12 484,370 C484.6,368.88 484.5,367.83 485.5,367.3 C486.5,366.77 487.37,366.72 490,366.8 C492.63,366.88 497.97,367.38 501.3,367.8 C504.63,368.22 507.15,368.88 510,369.3 C512.85,369.72 515.07,369.88 518.4,370.3 C521.73,370.72 524.17,371.12 530,371.8 C535.83,372.48 546.73,373.73 553.4,374.4 C560.07,375.07 563.9,375.5 570,375.8 C576.1,376.1 583.33,376.23 590,376.2 C596.67,376.17 604.17,375.73 610,375.6 C615.83,375.47 621.67,375.62 625,375.4 C628.33,375.18 628.33,374.68 630,374.3 C631.67,373.92 632.5,373.38 635,373.1 C637.5,372.82 642.17,372.45 645,372.6 C647.83,372.75 649.5,373.57 652,374 C654.5,374.43 658.67,375 660,375.2" fill="none" stroke="#ffaa12" stroke-width="2.4" stroke-dasharray="1.6 17.4" stroke-dashoffset="0.6"/>
<path d="M433.5,384 C433.92,383 435.25,377.67 436,378 C436.75,378.33 437.33,385.67 438,386 C438.67,386.33 439.33,379.33 440,380 C440.67,380.67 441.33,388 442,390 C442.67,392 443.33,391.17 444,392 C444.67,392.83 445.17,395.67 446,395 C446.83,394.33 448,391 449,388 C450,385 451,378.17 452,377 C453,375.83 454,379.83 455,381 C456,382.17 457.17,383.83 458,384 C458.83,384.17 459.33,382.92 460,382 C460.67,381.08 461.33,380.1 462,378.5 C462.67,376.9 463.33,374.1 464,372.4 C464.67,370.7 464.88,368.9 466,368.3 C467.12,367.7 469.07,368.47 470.7,368.8 C472.33,369.13 474.42,369.77 475.8,370.3 C477.18,370.83 477.98,371.38 479,372 C480.02,372.62 481.07,374.33 481.9,374 C482.73,373.67 483.4,371.12 484,370 C484.6,368.88 484.5,367.83 485.5,367.3 C486.5,366.77 487.37,366.72 490,366.8 C492.63,366.88 497.97,367.38 501.3,367.8 C504.63,368.22 507.15,368.88 510,369.3 C512.85,369.72 515.07,369.88 518.4,370.3 C521.73,370.72 524.17,371.12 530,371.8 C535.83,372.48 546.73,373.73 553.4,374.4 C560.07,375.07 563.9,375.5 570,375.8 C576.1,376.1 583.33,376.23 590,376.2 C596.67,376.17 604.17,375.73 610,375.6 C615.83,375.47 621.67,375.62 625,375.4 C628.33,375.18 628.33,374.68 630,374.3 C631.67,373.92 632.5,373.38 635,373.1 C637.5,372.82 642.17,372.45 645,372.6 C647.83,372.75 649.5,373.57 652,374 C654.5,374.43 658.67,375 660,375.2" fill="none" stroke="#d80c12" stroke-width="2.0" stroke-dasharray="1.4 26" stroke-dashoffset="10"/>
<rect x="432.8" y="202.8" width="227.5" height="198.4" fill="none" stroke="#111" stroke-width="1.6"/>
<text x="425.6" y="230.6" font-size="15.4" text-anchor="end" fill="#111">0.60</text>
<text x="425.6" y="289.4" font-size="15.4" text-anchor="end" fill="#111">0.56</text>
<text x="425.6" y="347.9" font-size="15.4" text-anchor="end" fill="#111">0.52</text>
<text x="425.6" y="406.7" font-size="15.4" text-anchor="end" fill="#111">0.48</text>
<text x="450.4" y="422.4" font-size="15.6" text-anchor="middle" fill="#111">1000</text>
<text x="519.8" y="422.4" font-size="15.6" text-anchor="middle" fill="#111">2000</text>
<text x="590" y="422.4" font-size="15.6" text-anchor="middle" fill="#111">3000</text>
<text x="659.9" y="422.4" font-size="15.6" text-anchor="middle" fill="#111">4000</text>
<text x="475.3" y="443.5" font-size="15" fill="#111" textLength="123.6" lengthAdjust="spacingAndGlyphs">Wavenumber (cm</text>
<text x="600.3" y="435" font-size="9.6" fill="#111">-1</text>
<text x="609.5" y="443.5" font-size="15" fill="#111">)</text>
<text transform="translate(387.2,301.8) rotate(-90)" font-size="15.3" text-anchor="middle" fill="#111" textLength="81" lengthAdjust="spacingAndGlyphs">Reflectance</text>
<text x="354.6" y="206.8" font-size="19.5">(d)</text>
<line x1="577.9" y1="222.9" x2="606.7" y2="222.9" stroke="#0c16d6" stroke-width="2.8" stroke-linecap="round"/>
<text x="612.7" y="228.3" font-size="15.3" fill="#111">900</text>
<line x1="577.9" y1="240.4" x2="606.7" y2="240.4" stroke="#d80c12" stroke-width="2.8" stroke-linecap="round"/>
<text x="612.7" y="245.8" font-size="15.3" fill="#111">1000</text>
<line x1="577.9" y1="258.3" x2="606.7" y2="258.3" stroke="#1cc81c" stroke-width="2.8" stroke-linecap="round"/>
<text x="612.7" y="263.7" font-size="15.3" fill="#111">1100</text>
<line x1="577.9" y1="275.4" x2="606.7" y2="275.4" stroke="#ffaa12" stroke-width="2.8" stroke-linecap="round"/>
<text x="612.7" y="280.8" font-size="15.3" fill="#111">1200</text>
<line x1="577.9" y1="293.3" x2="606.7" y2="293.3" stroke="#7212d2" stroke-width="2.8" stroke-linecap="round"/>
<text x="612.7" y="298.7" font-size="15.3" fill="#111">1300</text>
<defs><filter id="gl" x="-20%" y="-50%" width="140%" height="200%"><feGaussianBlur stdDeviation="1.2"/></filter><filter id="gl3" x="-50%" y="-50%" width="200%" height="200%"><feGaussianBlur stdDeviation="2.4"/></filter><filter id="gl2" x="-20%" y="-50%" width="140%" height="200%"><feGaussianBlur stdDeviation="0.45"/></filter><linearGradient id="lnT" x1="545" x2="639" y1="0" y2="0" gradientUnits="userSpaceOnUse"><stop offset="0" stop-color="#ff4a30"/><stop offset="0.2" stop-color="#d82828"/><stop offset="0.5" stop-color="#b82424"/><stop offset="0.8" stop-color="#d82828"/><stop offset="1" stop-color="#ff4a30"/></linearGradient><linearGradient id="lnB" x1="545" x2="639" y1="0" y2="0" gradientUnits="userSpaceOnUse"><stop offset="0" stop-color="#ff6a30"/><stop offset="0.15" stop-color="#ff3030"/><stop offset="0.5" stop-color="#d82828"/><stop offset="0.85" stop-color="#ff3030"/><stop offset="1" stop-color="#ff6a30"/></linearGradient></defs>
<rect x="538.2" y="311.2" width="106.6" height="37.3" fill="#360904"/>
<ellipse cx="546" cy="326" rx="5" ry="12" fill="#80160a" opacity="0.5" filter="url(#gl3)"/>
<ellipse cx="638" cy="326" rx="5" ry="12" fill="#80160a" opacity="0.5" filter="url(#gl3)"/>
<path d="M546,318.6 H638 M546,333.2 H638" stroke="url(#lnB)" stroke-width="2.6" opacity="0.5" filter="url(#gl)"/>
<path d="M545.8,318.6 H637.8" stroke="url(#lnT)" stroke-width="1.2"/>
<path d="M545.8,333.2 H637.8" stroke="url(#lnB)" stroke-width="1.8"/>
<path d="M552,318.5 H632 M552,333.1 H632" stroke="#e8b0b0" stroke-width="0.45" opacity="0.55"/>
<path d="M545.8,318.4 V333.4 M637.8,318.4 V333.4" stroke="#ff9a38" stroke-width="1.5"/>
<path d="M546,333.2 H551 M637.6,333.2 H632.5" fill="none" stroke="#ffb050" stroke-width="1.3" filter="url(#gl2)"/>
<path d="M538.2,332.8 H546 M638,332.8 H644.8" stroke="#9a8a8a" stroke-width="0.6" opacity="0.8"/>
</svg>
</body></html>
